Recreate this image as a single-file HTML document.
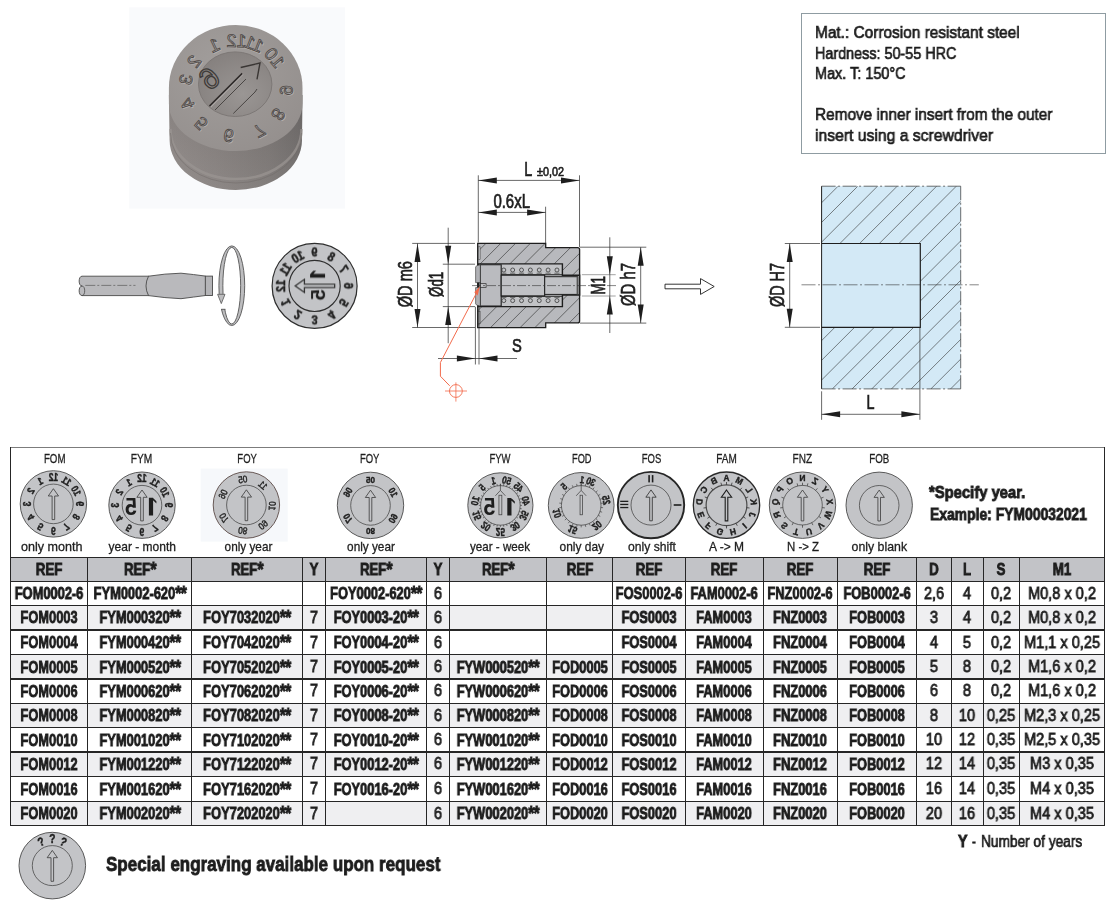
<!DOCTYPE html>
<html><head><meta charset="utf-8"><style>
html,body{margin:0;padding:0;background:#fff;}
body{width:1117px;height:909px;position:relative;overflow:hidden;font-family:"Liberation Sans",sans-serif;}
.t{position:absolute;white-space:nowrap;line-height:1;will-change:transform;}
.r{position:absolute;}
.as{font-size:1.2em;line-height:0;vertical-align:-0.05em;letter-spacing:-0.03em;}
svg{position:absolute;overflow:visible;}
</style></head><body>
<div class="r" style="left:10.50px;top:557.30px;width:1094.00px;height:24.00px;background:#c2c3c7;"></div><div class="r" style="left:10.50px;top:605.20px;width:1094.00px;height:24.80px;background:#efeff1;"></div><div class="r" style="left:10.50px;top:654.50px;width:1094.00px;height:24.50px;background:#efeff1;"></div><div class="r" style="left:10.50px;top:703.20px;width:1094.00px;height:24.30px;background:#efeff1;"></div><div class="r" style="left:10.50px;top:751.90px;width:1094.00px;height:24.60px;background:#efeff1;"></div><div class="r" style="left:10.50px;top:801.20px;width:1094.00px;height:24.10px;background:#efeff1;"></div><div class="r" style="left:10.50px;top:447.00px;width:1094.00px;height:1.00px;background:#7c7c7c;"></div><div class="r" style="left:9.90px;top:556.65px;width:1095.20px;height:1.30px;background:#262626;"></div><div class="r" style="left:9.90px;top:580.65px;width:1095.20px;height:1.30px;background:#262626;"></div><div class="r" style="left:9.90px;top:604.55px;width:1095.20px;height:1.30px;background:#262626;"></div><div class="r" style="left:9.90px;top:629.35px;width:1095.20px;height:1.30px;background:#262626;"></div><div class="r" style="left:9.90px;top:653.85px;width:1095.20px;height:1.30px;background:#262626;"></div><div class="r" style="left:9.90px;top:678.35px;width:1095.20px;height:1.30px;background:#262626;"></div><div class="r" style="left:9.90px;top:702.55px;width:1095.20px;height:1.30px;background:#262626;"></div><div class="r" style="left:9.90px;top:726.85px;width:1095.20px;height:1.30px;background:#262626;"></div><div class="r" style="left:9.90px;top:751.25px;width:1095.20px;height:1.30px;background:#262626;"></div><div class="r" style="left:9.90px;top:775.85px;width:1095.20px;height:1.30px;background:#262626;"></div><div class="r" style="left:9.90px;top:800.55px;width:1095.20px;height:1.30px;background:#262626;"></div><div class="r" style="left:9.90px;top:824.65px;width:1095.20px;height:1.30px;background:#262626;"></div><div class="r" style="left:9.90px;top:447.00px;width:1.30px;height:378.90px;background:#262626;"></div><div class="r" style="left:1103.90px;top:447.00px;width:1.30px;height:378.90px;background:#262626;"></div><div class="r" style="left:86.90px;top:557.30px;width:1.20px;height:268.00px;background:#262626;"></div><div class="r" style="left:191.20px;top:557.30px;width:1.20px;height:268.00px;background:#262626;"></div><div class="r" style="left:301.80px;top:557.30px;width:1.20px;height:268.00px;background:#262626;"></div><div class="r" style="left:325.30px;top:557.30px;width:1.20px;height:268.00px;background:#262626;"></div><div class="r" style="left:426.00px;top:557.30px;width:1.20px;height:268.00px;background:#262626;"></div><div class="r" style="left:448.50px;top:557.30px;width:1.20px;height:268.00px;background:#262626;"></div><div class="r" style="left:546.10px;top:557.30px;width:1.20px;height:268.00px;background:#262626;"></div><div class="r" style="left:612.10px;top:557.30px;width:1.20px;height:268.00px;background:#262626;"></div><div class="r" style="left:684.80px;top:557.30px;width:1.20px;height:268.00px;background:#262626;"></div><div class="r" style="left:762.50px;top:557.30px;width:1.20px;height:268.00px;background:#262626;"></div><div class="r" style="left:836.90px;top:557.30px;width:1.20px;height:268.00px;background:#262626;"></div><div class="r" style="left:915.70px;top:557.30px;width:1.20px;height:268.00px;background:#262626;"></div><div class="r" style="left:950.50px;top:557.30px;width:1.20px;height:268.00px;background:#262626;"></div><div class="r" style="left:982.90px;top:557.30px;width:1.20px;height:268.00px;background:#262626;"></div><div class="r" style="left:1018.80px;top:557.30px;width:1.20px;height:268.00px;background:#262626;"></div><div class="t" style="left:-251.00px;width:600px;text-align:center;top:561.23px;font-size:16.5px;font-weight:bold;transform:scaleX(0.8000);color:#1e1e1e;-webkit-text-stroke:0.85px #1a1a1a;">REF</div><div class="t" style="left:-160.35px;width:600px;text-align:center;top:561.23px;font-size:16.5px;font-weight:bold;transform:scaleX(0.8000);color:#1e1e1e;-webkit-text-stroke:0.85px #1a1a1a;">REF<span class="as">*</span></div><div class="t" style="left:-52.90px;width:600px;text-align:center;top:561.23px;font-size:16.5px;font-weight:bold;transform:scaleX(0.8000);color:#1e1e1e;-webkit-text-stroke:0.85px #1a1a1a;">REF<span class="as">*</span></div><div class="t" style="left:14.15px;width:600px;text-align:center;top:561.23px;font-size:16.5px;font-weight:bold;transform:scaleX(0.8000);color:#1e1e1e;-webkit-text-stroke:0.85px #1a1a1a;">Y</div><div class="t" style="left:76.25px;width:600px;text-align:center;top:561.23px;font-size:16.5px;font-weight:bold;transform:scaleX(0.8000);color:#1e1e1e;-webkit-text-stroke:0.85px #1a1a1a;">REF<span class="as">*</span></div><div class="t" style="left:137.85px;width:600px;text-align:center;top:561.23px;font-size:16.5px;font-weight:bold;transform:scaleX(0.8000);color:#1e1e1e;-webkit-text-stroke:0.85px #1a1a1a;">Y</div><div class="t" style="left:197.90px;width:600px;text-align:center;top:561.23px;font-size:16.5px;font-weight:bold;transform:scaleX(0.8000);color:#1e1e1e;-webkit-text-stroke:0.85px #1a1a1a;">REF<span class="as">*</span></div><div class="t" style="left:279.70px;width:600px;text-align:center;top:561.23px;font-size:16.5px;font-weight:bold;transform:scaleX(0.8000);color:#1e1e1e;-webkit-text-stroke:0.85px #1a1a1a;">REF</div><div class="t" style="left:349.05px;width:600px;text-align:center;top:561.23px;font-size:16.5px;font-weight:bold;transform:scaleX(0.8000);color:#1e1e1e;-webkit-text-stroke:0.85px #1a1a1a;">REF</div><div class="t" style="left:424.25px;width:600px;text-align:center;top:561.23px;font-size:16.5px;font-weight:bold;transform:scaleX(0.8000);color:#1e1e1e;-webkit-text-stroke:0.85px #1a1a1a;">REF</div><div class="t" style="left:500.30px;width:600px;text-align:center;top:561.23px;font-size:16.5px;font-weight:bold;transform:scaleX(0.8000);color:#1e1e1e;-webkit-text-stroke:0.85px #1a1a1a;">REF</div><div class="t" style="left:576.90px;width:600px;text-align:center;top:561.23px;font-size:16.5px;font-weight:bold;transform:scaleX(0.8000);color:#1e1e1e;-webkit-text-stroke:0.85px #1a1a1a;">REF</div><div class="t" style="left:633.70px;width:600px;text-align:center;top:561.23px;font-size:16.5px;font-weight:bold;transform:scaleX(0.8000);color:#1e1e1e;-webkit-text-stroke:0.85px #1a1a1a;">D</div><div class="t" style="left:667.30px;width:600px;text-align:center;top:561.23px;font-size:16.5px;font-weight:bold;transform:scaleX(0.8000);color:#1e1e1e;-webkit-text-stroke:0.85px #1a1a1a;">L</div><div class="t" style="left:701.45px;width:600px;text-align:center;top:561.23px;font-size:16.5px;font-weight:bold;transform:scaleX(0.8000);color:#1e1e1e;-webkit-text-stroke:0.85px #1a1a1a;">S</div><div class="t" style="left:761.95px;width:600px;text-align:center;top:561.23px;font-size:16.5px;font-weight:bold;transform:scaleX(0.8000);color:#1e1e1e;-webkit-text-stroke:0.85px #1a1a1a;">M1</div><div class="t" style="left:-251.00px;width:600px;text-align:center;top:585.08px;font-size:16.5px;font-weight:bold;transform:scaleX(0.7800);color:#1e1e1e;-webkit-text-stroke:0.85px #1a1a1a;">FOM0002-6</div><div class="t" style="left:-160.35px;width:600px;text-align:center;top:585.08px;font-size:16.5px;font-weight:bold;transform:scaleX(0.7800);color:#1e1e1e;-webkit-text-stroke:0.85px #1a1a1a;">FYM0002-620<span class="as">**</span></div><div class="t" style="left:76.25px;width:600px;text-align:center;top:585.08px;font-size:16.5px;font-weight:bold;transform:scaleX(0.7800);color:#1e1e1e;-webkit-text-stroke:0.85px #1a1a1a;">FOY0002-620<span class="as">**</span></div><div class="t" style="left:137.85px;width:600px;text-align:center;top:585.51px;font-size:16px;font-weight:normal;transform:scaleX(0.9100);color:#1e1e1e;-webkit-text-stroke:0.8px #1e1e1e;">6</div><div class="t" style="left:349.05px;width:600px;text-align:center;top:585.08px;font-size:16.5px;font-weight:bold;transform:scaleX(0.7800);color:#1e1e1e;-webkit-text-stroke:0.85px #1a1a1a;">FOS0002-6</div><div class="t" style="left:424.25px;width:600px;text-align:center;top:585.08px;font-size:16.5px;font-weight:bold;transform:scaleX(0.7800);color:#1e1e1e;-webkit-text-stroke:0.85px #1a1a1a;">FAM0002-6</div><div class="t" style="left:500.30px;width:600px;text-align:center;top:585.08px;font-size:16.5px;font-weight:bold;transform:scaleX(0.7800);color:#1e1e1e;-webkit-text-stroke:0.85px #1a1a1a;">FNZ0002-6</div><div class="t" style="left:576.90px;width:600px;text-align:center;top:585.08px;font-size:16.5px;font-weight:bold;transform:scaleX(0.7800);color:#1e1e1e;-webkit-text-stroke:0.85px #1a1a1a;">FOB0002-6</div><div class="t" style="left:633.70px;width:600px;text-align:center;top:585.51px;font-size:16px;font-weight:normal;transform:scaleX(0.9100);color:#1e1e1e;-webkit-text-stroke:0.8px #1e1e1e;">2,6</div><div class="t" style="left:667.30px;width:600px;text-align:center;top:585.51px;font-size:16px;font-weight:normal;transform:scaleX(0.9100);color:#1e1e1e;-webkit-text-stroke:0.8px #1e1e1e;">4</div><div class="t" style="left:701.45px;width:600px;text-align:center;top:585.51px;font-size:16px;font-weight:normal;transform:scaleX(0.9100);color:#1e1e1e;-webkit-text-stroke:0.8px #1e1e1e;">0,2</div><div class="t" style="left:761.95px;width:600px;text-align:center;top:585.51px;font-size:16px;font-weight:normal;transform:scaleX(0.9100);color:#1e1e1e;-webkit-text-stroke:0.8px #1e1e1e;">M0,8 x 0,2</div><div class="t" style="left:-251.00px;width:600px;text-align:center;top:609.43px;font-size:16.5px;font-weight:bold;transform:scaleX(0.7800);color:#1e1e1e;-webkit-text-stroke:0.85px #1a1a1a;">FOM0003</div><div class="t" style="left:-160.35px;width:600px;text-align:center;top:609.43px;font-size:16.5px;font-weight:bold;transform:scaleX(0.7800);color:#1e1e1e;-webkit-text-stroke:0.85px #1a1a1a;">FYM000320<span class="as">**</span></div><div class="t" style="left:-52.90px;width:600px;text-align:center;top:609.43px;font-size:16.5px;font-weight:bold;transform:scaleX(0.7800);color:#1e1e1e;-webkit-text-stroke:0.85px #1a1a1a;">FOY7032020<span class="as">**</span></div><div class="t" style="left:14.15px;width:600px;text-align:center;top:609.86px;font-size:16px;font-weight:normal;transform:scaleX(0.9100);color:#1e1e1e;-webkit-text-stroke:0.8px #1e1e1e;">7</div><div class="t" style="left:76.25px;width:600px;text-align:center;top:609.43px;font-size:16.5px;font-weight:bold;transform:scaleX(0.7800);color:#1e1e1e;-webkit-text-stroke:0.85px #1a1a1a;">FOY0003-20<span class="as">**</span></div><div class="t" style="left:137.85px;width:600px;text-align:center;top:609.86px;font-size:16px;font-weight:normal;transform:scaleX(0.9100);color:#1e1e1e;-webkit-text-stroke:0.8px #1e1e1e;">6</div><div class="t" style="left:349.05px;width:600px;text-align:center;top:609.43px;font-size:16.5px;font-weight:bold;transform:scaleX(0.7800);color:#1e1e1e;-webkit-text-stroke:0.85px #1a1a1a;">FOS0003</div><div class="t" style="left:424.25px;width:600px;text-align:center;top:609.43px;font-size:16.5px;font-weight:bold;transform:scaleX(0.7800);color:#1e1e1e;-webkit-text-stroke:0.85px #1a1a1a;">FAM0003</div><div class="t" style="left:500.30px;width:600px;text-align:center;top:609.43px;font-size:16.5px;font-weight:bold;transform:scaleX(0.7800);color:#1e1e1e;-webkit-text-stroke:0.85px #1a1a1a;">FNZ0003</div><div class="t" style="left:576.90px;width:600px;text-align:center;top:609.43px;font-size:16.5px;font-weight:bold;transform:scaleX(0.7800);color:#1e1e1e;-webkit-text-stroke:0.85px #1a1a1a;">FOB0003</div><div class="t" style="left:633.70px;width:600px;text-align:center;top:609.86px;font-size:16px;font-weight:normal;transform:scaleX(0.9100);color:#1e1e1e;-webkit-text-stroke:0.8px #1e1e1e;">3</div><div class="t" style="left:667.30px;width:600px;text-align:center;top:609.86px;font-size:16px;font-weight:normal;transform:scaleX(0.9100);color:#1e1e1e;-webkit-text-stroke:0.8px #1e1e1e;">4</div><div class="t" style="left:701.45px;width:600px;text-align:center;top:609.86px;font-size:16px;font-weight:normal;transform:scaleX(0.9100);color:#1e1e1e;-webkit-text-stroke:0.8px #1e1e1e;">0,2</div><div class="t" style="left:761.95px;width:600px;text-align:center;top:609.86px;font-size:16px;font-weight:normal;transform:scaleX(0.9100);color:#1e1e1e;-webkit-text-stroke:0.8px #1e1e1e;">M0,8 x 0,2</div><div class="t" style="left:-251.00px;width:600px;text-align:center;top:634.08px;font-size:16.5px;font-weight:bold;transform:scaleX(0.7800);color:#1e1e1e;-webkit-text-stroke:0.85px #1a1a1a;">FOM0004</div><div class="t" style="left:-160.35px;width:600px;text-align:center;top:634.08px;font-size:16.5px;font-weight:bold;transform:scaleX(0.7800);color:#1e1e1e;-webkit-text-stroke:0.85px #1a1a1a;">FYM000420<span class="as">**</span></div><div class="t" style="left:-52.90px;width:600px;text-align:center;top:634.08px;font-size:16.5px;font-weight:bold;transform:scaleX(0.7800);color:#1e1e1e;-webkit-text-stroke:0.85px #1a1a1a;">FOY7042020<span class="as">**</span></div><div class="t" style="left:14.15px;width:600px;text-align:center;top:634.51px;font-size:16px;font-weight:normal;transform:scaleX(0.9100);color:#1e1e1e;-webkit-text-stroke:0.8px #1e1e1e;">7</div><div class="t" style="left:76.25px;width:600px;text-align:center;top:634.08px;font-size:16.5px;font-weight:bold;transform:scaleX(0.7800);color:#1e1e1e;-webkit-text-stroke:0.85px #1a1a1a;">FOY0004-20<span class="as">**</span></div><div class="t" style="left:137.85px;width:600px;text-align:center;top:634.51px;font-size:16px;font-weight:normal;transform:scaleX(0.9100);color:#1e1e1e;-webkit-text-stroke:0.8px #1e1e1e;">6</div><div class="t" style="left:349.05px;width:600px;text-align:center;top:634.08px;font-size:16.5px;font-weight:bold;transform:scaleX(0.7800);color:#1e1e1e;-webkit-text-stroke:0.85px #1a1a1a;">FOS0004</div><div class="t" style="left:424.25px;width:600px;text-align:center;top:634.08px;font-size:16.5px;font-weight:bold;transform:scaleX(0.7800);color:#1e1e1e;-webkit-text-stroke:0.85px #1a1a1a;">FAM0004</div><div class="t" style="left:500.30px;width:600px;text-align:center;top:634.08px;font-size:16.5px;font-weight:bold;transform:scaleX(0.7800);color:#1e1e1e;-webkit-text-stroke:0.85px #1a1a1a;">FNZ0004</div><div class="t" style="left:576.90px;width:600px;text-align:center;top:634.08px;font-size:16.5px;font-weight:bold;transform:scaleX(0.7800);color:#1e1e1e;-webkit-text-stroke:0.85px #1a1a1a;">FOB0004</div><div class="t" style="left:633.70px;width:600px;text-align:center;top:634.51px;font-size:16px;font-weight:normal;transform:scaleX(0.9100);color:#1e1e1e;-webkit-text-stroke:0.8px #1e1e1e;">4</div><div class="t" style="left:667.30px;width:600px;text-align:center;top:634.51px;font-size:16px;font-weight:normal;transform:scaleX(0.9100);color:#1e1e1e;-webkit-text-stroke:0.8px #1e1e1e;">5</div><div class="t" style="left:701.45px;width:600px;text-align:center;top:634.51px;font-size:16px;font-weight:normal;transform:scaleX(0.9100);color:#1e1e1e;-webkit-text-stroke:0.8px #1e1e1e;">0,2</div><div class="t" style="left:761.95px;width:600px;text-align:center;top:634.51px;font-size:16px;font-weight:normal;transform:scaleX(0.9100);color:#1e1e1e;-webkit-text-stroke:0.8px #1e1e1e;">M1,1 x 0,25</div><div class="t" style="left:-251.00px;width:600px;text-align:center;top:658.58px;font-size:16.5px;font-weight:bold;transform:scaleX(0.7800);color:#1e1e1e;-webkit-text-stroke:0.85px #1a1a1a;">FOM0005</div><div class="t" style="left:-160.35px;width:600px;text-align:center;top:658.58px;font-size:16.5px;font-weight:bold;transform:scaleX(0.7800);color:#1e1e1e;-webkit-text-stroke:0.85px #1a1a1a;">FYM000520<span class="as">**</span></div><div class="t" style="left:-52.90px;width:600px;text-align:center;top:658.58px;font-size:16.5px;font-weight:bold;transform:scaleX(0.7800);color:#1e1e1e;-webkit-text-stroke:0.85px #1a1a1a;">FOY7052020<span class="as">**</span></div><div class="t" style="left:14.15px;width:600px;text-align:center;top:659.01px;font-size:16px;font-weight:normal;transform:scaleX(0.9100);color:#1e1e1e;-webkit-text-stroke:0.8px #1e1e1e;">7</div><div class="t" style="left:76.25px;width:600px;text-align:center;top:658.58px;font-size:16.5px;font-weight:bold;transform:scaleX(0.7800);color:#1e1e1e;-webkit-text-stroke:0.85px #1a1a1a;">FOY0005-20<span class="as">**</span></div><div class="t" style="left:137.85px;width:600px;text-align:center;top:659.01px;font-size:16px;font-weight:normal;transform:scaleX(0.9100);color:#1e1e1e;-webkit-text-stroke:0.8px #1e1e1e;">6</div><div class="t" style="left:197.90px;width:600px;text-align:center;top:658.58px;font-size:16.5px;font-weight:bold;transform:scaleX(0.7800);color:#1e1e1e;-webkit-text-stroke:0.85px #1a1a1a;">FYW000520<span class="as">**</span></div><div class="t" style="left:279.70px;width:600px;text-align:center;top:658.58px;font-size:16.5px;font-weight:bold;transform:scaleX(0.7800);color:#1e1e1e;-webkit-text-stroke:0.85px #1a1a1a;">FOD0005</div><div class="t" style="left:349.05px;width:600px;text-align:center;top:658.58px;font-size:16.5px;font-weight:bold;transform:scaleX(0.7800);color:#1e1e1e;-webkit-text-stroke:0.85px #1a1a1a;">FOS0005</div><div class="t" style="left:424.25px;width:600px;text-align:center;top:658.58px;font-size:16.5px;font-weight:bold;transform:scaleX(0.7800);color:#1e1e1e;-webkit-text-stroke:0.85px #1a1a1a;">FAM0005</div><div class="t" style="left:500.30px;width:600px;text-align:center;top:658.58px;font-size:16.5px;font-weight:bold;transform:scaleX(0.7800);color:#1e1e1e;-webkit-text-stroke:0.85px #1a1a1a;">FNZ0005</div><div class="t" style="left:576.90px;width:600px;text-align:center;top:658.58px;font-size:16.5px;font-weight:bold;transform:scaleX(0.7800);color:#1e1e1e;-webkit-text-stroke:0.85px #1a1a1a;">FOB0005</div><div class="t" style="left:633.70px;width:600px;text-align:center;top:659.01px;font-size:16px;font-weight:normal;transform:scaleX(0.9100);color:#1e1e1e;-webkit-text-stroke:0.8px #1e1e1e;">5</div><div class="t" style="left:667.30px;width:600px;text-align:center;top:659.01px;font-size:16px;font-weight:normal;transform:scaleX(0.9100);color:#1e1e1e;-webkit-text-stroke:0.8px #1e1e1e;">8</div><div class="t" style="left:701.45px;width:600px;text-align:center;top:659.01px;font-size:16px;font-weight:normal;transform:scaleX(0.9100);color:#1e1e1e;-webkit-text-stroke:0.8px #1e1e1e;">0,2</div><div class="t" style="left:761.95px;width:600px;text-align:center;top:659.01px;font-size:16px;font-weight:normal;transform:scaleX(0.9100);color:#1e1e1e;-webkit-text-stroke:0.8px #1e1e1e;">M1,6 x 0,2</div><div class="t" style="left:-251.00px;width:600px;text-align:center;top:682.93px;font-size:16.5px;font-weight:bold;transform:scaleX(0.7800);color:#1e1e1e;-webkit-text-stroke:0.85px #1a1a1a;">FOM0006</div><div class="t" style="left:-160.35px;width:600px;text-align:center;top:682.93px;font-size:16.5px;font-weight:bold;transform:scaleX(0.7800);color:#1e1e1e;-webkit-text-stroke:0.85px #1a1a1a;">FYM000620<span class="as">**</span></div><div class="t" style="left:-52.90px;width:600px;text-align:center;top:682.93px;font-size:16.5px;font-weight:bold;transform:scaleX(0.7800);color:#1e1e1e;-webkit-text-stroke:0.85px #1a1a1a;">FOY7062020<span class="as">**</span></div><div class="t" style="left:14.15px;width:600px;text-align:center;top:683.36px;font-size:16px;font-weight:normal;transform:scaleX(0.9100);color:#1e1e1e;-webkit-text-stroke:0.8px #1e1e1e;">7</div><div class="t" style="left:76.25px;width:600px;text-align:center;top:682.93px;font-size:16.5px;font-weight:bold;transform:scaleX(0.7800);color:#1e1e1e;-webkit-text-stroke:0.85px #1a1a1a;">FOY0006-20<span class="as">**</span></div><div class="t" style="left:137.85px;width:600px;text-align:center;top:683.36px;font-size:16px;font-weight:normal;transform:scaleX(0.9100);color:#1e1e1e;-webkit-text-stroke:0.8px #1e1e1e;">6</div><div class="t" style="left:197.90px;width:600px;text-align:center;top:682.93px;font-size:16.5px;font-weight:bold;transform:scaleX(0.7800);color:#1e1e1e;-webkit-text-stroke:0.85px #1a1a1a;">FYW000620<span class="as">**</span></div><div class="t" style="left:279.70px;width:600px;text-align:center;top:682.93px;font-size:16.5px;font-weight:bold;transform:scaleX(0.7800);color:#1e1e1e;-webkit-text-stroke:0.85px #1a1a1a;">FOD0006</div><div class="t" style="left:349.05px;width:600px;text-align:center;top:682.93px;font-size:16.5px;font-weight:bold;transform:scaleX(0.7800);color:#1e1e1e;-webkit-text-stroke:0.85px #1a1a1a;">FOS0006</div><div class="t" style="left:424.25px;width:600px;text-align:center;top:682.93px;font-size:16.5px;font-weight:bold;transform:scaleX(0.7800);color:#1e1e1e;-webkit-text-stroke:0.85px #1a1a1a;">FAM0006</div><div class="t" style="left:500.30px;width:600px;text-align:center;top:682.93px;font-size:16.5px;font-weight:bold;transform:scaleX(0.7800);color:#1e1e1e;-webkit-text-stroke:0.85px #1a1a1a;">FNZ0006</div><div class="t" style="left:576.90px;width:600px;text-align:center;top:682.93px;font-size:16.5px;font-weight:bold;transform:scaleX(0.7800);color:#1e1e1e;-webkit-text-stroke:0.85px #1a1a1a;">FOB0006</div><div class="t" style="left:633.70px;width:600px;text-align:center;top:683.36px;font-size:16px;font-weight:normal;transform:scaleX(0.9100);color:#1e1e1e;-webkit-text-stroke:0.8px #1e1e1e;">6</div><div class="t" style="left:667.30px;width:600px;text-align:center;top:683.36px;font-size:16px;font-weight:normal;transform:scaleX(0.9100);color:#1e1e1e;-webkit-text-stroke:0.8px #1e1e1e;">8</div><div class="t" style="left:701.45px;width:600px;text-align:center;top:683.36px;font-size:16px;font-weight:normal;transform:scaleX(0.9100);color:#1e1e1e;-webkit-text-stroke:0.8px #1e1e1e;">0,2</div><div class="t" style="left:761.95px;width:600px;text-align:center;top:683.36px;font-size:16px;font-weight:normal;transform:scaleX(0.9100);color:#1e1e1e;-webkit-text-stroke:0.8px #1e1e1e;">M1,6 x 0,2</div><div class="t" style="left:-251.00px;width:600px;text-align:center;top:707.18px;font-size:16.5px;font-weight:bold;transform:scaleX(0.7800);color:#1e1e1e;-webkit-text-stroke:0.85px #1a1a1a;">FOM0008</div><div class="t" style="left:-160.35px;width:600px;text-align:center;top:707.18px;font-size:16.5px;font-weight:bold;transform:scaleX(0.7800);color:#1e1e1e;-webkit-text-stroke:0.85px #1a1a1a;">FYM000820<span class="as">**</span></div><div class="t" style="left:-52.90px;width:600px;text-align:center;top:707.18px;font-size:16.5px;font-weight:bold;transform:scaleX(0.7800);color:#1e1e1e;-webkit-text-stroke:0.85px #1a1a1a;">FOY7082020<span class="as">**</span></div><div class="t" style="left:14.15px;width:600px;text-align:center;top:707.61px;font-size:16px;font-weight:normal;transform:scaleX(0.9100);color:#1e1e1e;-webkit-text-stroke:0.8px #1e1e1e;">7</div><div class="t" style="left:76.25px;width:600px;text-align:center;top:707.18px;font-size:16.5px;font-weight:bold;transform:scaleX(0.7800);color:#1e1e1e;-webkit-text-stroke:0.85px #1a1a1a;">FOY0008-20<span class="as">**</span></div><div class="t" style="left:137.85px;width:600px;text-align:center;top:707.61px;font-size:16px;font-weight:normal;transform:scaleX(0.9100);color:#1e1e1e;-webkit-text-stroke:0.8px #1e1e1e;">6</div><div class="t" style="left:197.90px;width:600px;text-align:center;top:707.18px;font-size:16.5px;font-weight:bold;transform:scaleX(0.7800);color:#1e1e1e;-webkit-text-stroke:0.85px #1a1a1a;">FYW000820<span class="as">**</span></div><div class="t" style="left:279.70px;width:600px;text-align:center;top:707.18px;font-size:16.5px;font-weight:bold;transform:scaleX(0.7800);color:#1e1e1e;-webkit-text-stroke:0.85px #1a1a1a;">FOD0008</div><div class="t" style="left:349.05px;width:600px;text-align:center;top:707.18px;font-size:16.5px;font-weight:bold;transform:scaleX(0.7800);color:#1e1e1e;-webkit-text-stroke:0.85px #1a1a1a;">FOS0008</div><div class="t" style="left:424.25px;width:600px;text-align:center;top:707.18px;font-size:16.5px;font-weight:bold;transform:scaleX(0.7800);color:#1e1e1e;-webkit-text-stroke:0.85px #1a1a1a;">FAM0008</div><div class="t" style="left:500.30px;width:600px;text-align:center;top:707.18px;font-size:16.5px;font-weight:bold;transform:scaleX(0.7800);color:#1e1e1e;-webkit-text-stroke:0.85px #1a1a1a;">FNZ0008</div><div class="t" style="left:576.90px;width:600px;text-align:center;top:707.18px;font-size:16.5px;font-weight:bold;transform:scaleX(0.7800);color:#1e1e1e;-webkit-text-stroke:0.85px #1a1a1a;">FOB0008</div><div class="t" style="left:633.70px;width:600px;text-align:center;top:707.61px;font-size:16px;font-weight:normal;transform:scaleX(0.9100);color:#1e1e1e;-webkit-text-stroke:0.8px #1e1e1e;">8</div><div class="t" style="left:667.30px;width:600px;text-align:center;top:707.61px;font-size:16px;font-weight:normal;transform:scaleX(0.9100);color:#1e1e1e;-webkit-text-stroke:0.8px #1e1e1e;">10</div><div class="t" style="left:701.45px;width:600px;text-align:center;top:707.61px;font-size:16px;font-weight:normal;transform:scaleX(0.9100);color:#1e1e1e;-webkit-text-stroke:0.8px #1e1e1e;">0,25</div><div class="t" style="left:761.95px;width:600px;text-align:center;top:707.61px;font-size:16px;font-weight:normal;transform:scaleX(0.9100);color:#1e1e1e;-webkit-text-stroke:0.8px #1e1e1e;">M2,3 x 0,25</div><div class="t" style="left:-251.00px;width:600px;text-align:center;top:731.53px;font-size:16.5px;font-weight:bold;transform:scaleX(0.7800);color:#1e1e1e;-webkit-text-stroke:0.85px #1a1a1a;">FOM0010</div><div class="t" style="left:-160.35px;width:600px;text-align:center;top:731.53px;font-size:16.5px;font-weight:bold;transform:scaleX(0.7800);color:#1e1e1e;-webkit-text-stroke:0.85px #1a1a1a;">FYM001020<span class="as">**</span></div><div class="t" style="left:-52.90px;width:600px;text-align:center;top:731.53px;font-size:16.5px;font-weight:bold;transform:scaleX(0.7800);color:#1e1e1e;-webkit-text-stroke:0.85px #1a1a1a;">FOY7102020<span class="as">**</span></div><div class="t" style="left:14.15px;width:600px;text-align:center;top:731.96px;font-size:16px;font-weight:normal;transform:scaleX(0.9100);color:#1e1e1e;-webkit-text-stroke:0.8px #1e1e1e;">7</div><div class="t" style="left:76.25px;width:600px;text-align:center;top:731.53px;font-size:16.5px;font-weight:bold;transform:scaleX(0.7800);color:#1e1e1e;-webkit-text-stroke:0.85px #1a1a1a;">FOY0010-20<span class="as">**</span></div><div class="t" style="left:137.85px;width:600px;text-align:center;top:731.96px;font-size:16px;font-weight:normal;transform:scaleX(0.9100);color:#1e1e1e;-webkit-text-stroke:0.8px #1e1e1e;">6</div><div class="t" style="left:197.90px;width:600px;text-align:center;top:731.53px;font-size:16.5px;font-weight:bold;transform:scaleX(0.7800);color:#1e1e1e;-webkit-text-stroke:0.85px #1a1a1a;">FYW001020<span class="as">**</span></div><div class="t" style="left:279.70px;width:600px;text-align:center;top:731.53px;font-size:16.5px;font-weight:bold;transform:scaleX(0.7800);color:#1e1e1e;-webkit-text-stroke:0.85px #1a1a1a;">FOD0010</div><div class="t" style="left:349.05px;width:600px;text-align:center;top:731.53px;font-size:16.5px;font-weight:bold;transform:scaleX(0.7800);color:#1e1e1e;-webkit-text-stroke:0.85px #1a1a1a;">FOS0010</div><div class="t" style="left:424.25px;width:600px;text-align:center;top:731.53px;font-size:16.5px;font-weight:bold;transform:scaleX(0.7800);color:#1e1e1e;-webkit-text-stroke:0.85px #1a1a1a;">FAM0010</div><div class="t" style="left:500.30px;width:600px;text-align:center;top:731.53px;font-size:16.5px;font-weight:bold;transform:scaleX(0.7800);color:#1e1e1e;-webkit-text-stroke:0.85px #1a1a1a;">FNZ0010</div><div class="t" style="left:576.90px;width:600px;text-align:center;top:731.53px;font-size:16.5px;font-weight:bold;transform:scaleX(0.7800);color:#1e1e1e;-webkit-text-stroke:0.85px #1a1a1a;">FOB0010</div><div class="t" style="left:633.70px;width:600px;text-align:center;top:731.96px;font-size:16px;font-weight:normal;transform:scaleX(0.9100);color:#1e1e1e;-webkit-text-stroke:0.8px #1e1e1e;">10</div><div class="t" style="left:667.30px;width:600px;text-align:center;top:731.96px;font-size:16px;font-weight:normal;transform:scaleX(0.9100);color:#1e1e1e;-webkit-text-stroke:0.8px #1e1e1e;">12</div><div class="t" style="left:701.45px;width:600px;text-align:center;top:731.96px;font-size:16px;font-weight:normal;transform:scaleX(0.9100);color:#1e1e1e;-webkit-text-stroke:0.8px #1e1e1e;">0,35</div><div class="t" style="left:761.95px;width:600px;text-align:center;top:731.96px;font-size:16px;font-weight:normal;transform:scaleX(0.9100);color:#1e1e1e;-webkit-text-stroke:0.8px #1e1e1e;">M2,5 x 0,35</div><div class="t" style="left:-251.00px;width:600px;text-align:center;top:756.03px;font-size:16.5px;font-weight:bold;transform:scaleX(0.7800);color:#1e1e1e;-webkit-text-stroke:0.85px #1a1a1a;">FOM0012</div><div class="t" style="left:-160.35px;width:600px;text-align:center;top:756.03px;font-size:16.5px;font-weight:bold;transform:scaleX(0.7800);color:#1e1e1e;-webkit-text-stroke:0.85px #1a1a1a;">FYM001220<span class="as">**</span></div><div class="t" style="left:-52.90px;width:600px;text-align:center;top:756.03px;font-size:16.5px;font-weight:bold;transform:scaleX(0.7800);color:#1e1e1e;-webkit-text-stroke:0.85px #1a1a1a;">FOY7122020<span class="as">**</span></div><div class="t" style="left:14.15px;width:600px;text-align:center;top:756.46px;font-size:16px;font-weight:normal;transform:scaleX(0.9100);color:#1e1e1e;-webkit-text-stroke:0.8px #1e1e1e;">7</div><div class="t" style="left:76.25px;width:600px;text-align:center;top:756.03px;font-size:16.5px;font-weight:bold;transform:scaleX(0.7800);color:#1e1e1e;-webkit-text-stroke:0.85px #1a1a1a;">FOY0012-20<span class="as">**</span></div><div class="t" style="left:137.85px;width:600px;text-align:center;top:756.46px;font-size:16px;font-weight:normal;transform:scaleX(0.9100);color:#1e1e1e;-webkit-text-stroke:0.8px #1e1e1e;">6</div><div class="t" style="left:197.90px;width:600px;text-align:center;top:756.03px;font-size:16.5px;font-weight:bold;transform:scaleX(0.7800);color:#1e1e1e;-webkit-text-stroke:0.85px #1a1a1a;">FYW001220<span class="as">**</span></div><div class="t" style="left:279.70px;width:600px;text-align:center;top:756.03px;font-size:16.5px;font-weight:bold;transform:scaleX(0.7800);color:#1e1e1e;-webkit-text-stroke:0.85px #1a1a1a;">FOD0012</div><div class="t" style="left:349.05px;width:600px;text-align:center;top:756.03px;font-size:16.5px;font-weight:bold;transform:scaleX(0.7800);color:#1e1e1e;-webkit-text-stroke:0.85px #1a1a1a;">FOS0012</div><div class="t" style="left:424.25px;width:600px;text-align:center;top:756.03px;font-size:16.5px;font-weight:bold;transform:scaleX(0.7800);color:#1e1e1e;-webkit-text-stroke:0.85px #1a1a1a;">FAM0012</div><div class="t" style="left:500.30px;width:600px;text-align:center;top:756.03px;font-size:16.5px;font-weight:bold;transform:scaleX(0.7800);color:#1e1e1e;-webkit-text-stroke:0.85px #1a1a1a;">FNZ0012</div><div class="t" style="left:576.90px;width:600px;text-align:center;top:756.03px;font-size:16.5px;font-weight:bold;transform:scaleX(0.7800);color:#1e1e1e;-webkit-text-stroke:0.85px #1a1a1a;">FOB0012</div><div class="t" style="left:633.70px;width:600px;text-align:center;top:756.46px;font-size:16px;font-weight:normal;transform:scaleX(0.9100);color:#1e1e1e;-webkit-text-stroke:0.8px #1e1e1e;">12</div><div class="t" style="left:667.30px;width:600px;text-align:center;top:756.46px;font-size:16px;font-weight:normal;transform:scaleX(0.9100);color:#1e1e1e;-webkit-text-stroke:0.8px #1e1e1e;">14</div><div class="t" style="left:701.45px;width:600px;text-align:center;top:756.46px;font-size:16px;font-weight:normal;transform:scaleX(0.9100);color:#1e1e1e;-webkit-text-stroke:0.8px #1e1e1e;">0,35</div><div class="t" style="left:761.95px;width:600px;text-align:center;top:756.46px;font-size:16px;font-weight:normal;transform:scaleX(0.9100);color:#1e1e1e;-webkit-text-stroke:0.8px #1e1e1e;">M3 x 0,35</div><div class="t" style="left:-251.00px;width:600px;text-align:center;top:780.68px;font-size:16.5px;font-weight:bold;transform:scaleX(0.7800);color:#1e1e1e;-webkit-text-stroke:0.85px #1a1a1a;">FOM0016</div><div class="t" style="left:-160.35px;width:600px;text-align:center;top:780.68px;font-size:16.5px;font-weight:bold;transform:scaleX(0.7800);color:#1e1e1e;-webkit-text-stroke:0.85px #1a1a1a;">FYM001620<span class="as">**</span></div><div class="t" style="left:-52.90px;width:600px;text-align:center;top:780.68px;font-size:16.5px;font-weight:bold;transform:scaleX(0.7800);color:#1e1e1e;-webkit-text-stroke:0.85px #1a1a1a;">FOY7162020<span class="as">**</span></div><div class="t" style="left:14.15px;width:600px;text-align:center;top:781.11px;font-size:16px;font-weight:normal;transform:scaleX(0.9100);color:#1e1e1e;-webkit-text-stroke:0.8px #1e1e1e;">7</div><div class="t" style="left:76.25px;width:600px;text-align:center;top:780.68px;font-size:16.5px;font-weight:bold;transform:scaleX(0.7800);color:#1e1e1e;-webkit-text-stroke:0.85px #1a1a1a;">FOY0016-20<span class="as">**</span></div><div class="t" style="left:137.85px;width:600px;text-align:center;top:781.11px;font-size:16px;font-weight:normal;transform:scaleX(0.9100);color:#1e1e1e;-webkit-text-stroke:0.8px #1e1e1e;">6</div><div class="t" style="left:197.90px;width:600px;text-align:center;top:780.68px;font-size:16.5px;font-weight:bold;transform:scaleX(0.7800);color:#1e1e1e;-webkit-text-stroke:0.85px #1a1a1a;">FYW001620<span class="as">**</span></div><div class="t" style="left:279.70px;width:600px;text-align:center;top:780.68px;font-size:16.5px;font-weight:bold;transform:scaleX(0.7800);color:#1e1e1e;-webkit-text-stroke:0.85px #1a1a1a;">FOD0016</div><div class="t" style="left:349.05px;width:600px;text-align:center;top:780.68px;font-size:16.5px;font-weight:bold;transform:scaleX(0.7800);color:#1e1e1e;-webkit-text-stroke:0.85px #1a1a1a;">FOS0016</div><div class="t" style="left:424.25px;width:600px;text-align:center;top:780.68px;font-size:16.5px;font-weight:bold;transform:scaleX(0.7800);color:#1e1e1e;-webkit-text-stroke:0.85px #1a1a1a;">FAM0016</div><div class="t" style="left:500.30px;width:600px;text-align:center;top:780.68px;font-size:16.5px;font-weight:bold;transform:scaleX(0.7800);color:#1e1e1e;-webkit-text-stroke:0.85px #1a1a1a;">FNZ0016</div><div class="t" style="left:576.90px;width:600px;text-align:center;top:780.68px;font-size:16.5px;font-weight:bold;transform:scaleX(0.7800);color:#1e1e1e;-webkit-text-stroke:0.85px #1a1a1a;">FOB0016</div><div class="t" style="left:633.70px;width:600px;text-align:center;top:781.11px;font-size:16px;font-weight:normal;transform:scaleX(0.9100);color:#1e1e1e;-webkit-text-stroke:0.8px #1e1e1e;">16</div><div class="t" style="left:667.30px;width:600px;text-align:center;top:781.11px;font-size:16px;font-weight:normal;transform:scaleX(0.9100);color:#1e1e1e;-webkit-text-stroke:0.8px #1e1e1e;">14</div><div class="t" style="left:701.45px;width:600px;text-align:center;top:781.11px;font-size:16px;font-weight:normal;transform:scaleX(0.9100);color:#1e1e1e;-webkit-text-stroke:0.8px #1e1e1e;">0,35</div><div class="t" style="left:761.95px;width:600px;text-align:center;top:781.11px;font-size:16px;font-weight:normal;transform:scaleX(0.9100);color:#1e1e1e;-webkit-text-stroke:0.8px #1e1e1e;">M4 x 0,35</div><div class="t" style="left:-251.00px;width:600px;text-align:center;top:805.08px;font-size:16.5px;font-weight:bold;transform:scaleX(0.7800);color:#1e1e1e;-webkit-text-stroke:0.85px #1a1a1a;">FOM0020</div><div class="t" style="left:-160.35px;width:600px;text-align:center;top:805.08px;font-size:16.5px;font-weight:bold;transform:scaleX(0.7800);color:#1e1e1e;-webkit-text-stroke:0.85px #1a1a1a;">FYM002020<span class="as">**</span></div><div class="t" style="left:-52.90px;width:600px;text-align:center;top:805.08px;font-size:16.5px;font-weight:bold;transform:scaleX(0.7800);color:#1e1e1e;-webkit-text-stroke:0.85px #1a1a1a;">FOY7202020<span class="as">**</span></div><div class="t" style="left:14.15px;width:600px;text-align:center;top:805.51px;font-size:16px;font-weight:normal;transform:scaleX(0.9100);color:#1e1e1e;-webkit-text-stroke:0.8px #1e1e1e;">7</div><div class="t" style="left:137.85px;width:600px;text-align:center;top:805.51px;font-size:16px;font-weight:normal;transform:scaleX(0.9100);color:#1e1e1e;-webkit-text-stroke:0.8px #1e1e1e;">6</div><div class="t" style="left:197.90px;width:600px;text-align:center;top:805.08px;font-size:16.5px;font-weight:bold;transform:scaleX(0.7800);color:#1e1e1e;-webkit-text-stroke:0.85px #1a1a1a;">FYW002020<span class="as">**</span></div><div class="t" style="left:279.70px;width:600px;text-align:center;top:805.08px;font-size:16.5px;font-weight:bold;transform:scaleX(0.7800);color:#1e1e1e;-webkit-text-stroke:0.85px #1a1a1a;">FOD0020</div><div class="t" style="left:349.05px;width:600px;text-align:center;top:805.08px;font-size:16.5px;font-weight:bold;transform:scaleX(0.7800);color:#1e1e1e;-webkit-text-stroke:0.85px #1a1a1a;">FOS0020</div><div class="t" style="left:424.25px;width:600px;text-align:center;top:805.08px;font-size:16.5px;font-weight:bold;transform:scaleX(0.7800);color:#1e1e1e;-webkit-text-stroke:0.85px #1a1a1a;">FAM0020</div><div class="t" style="left:500.30px;width:600px;text-align:center;top:805.08px;font-size:16.5px;font-weight:bold;transform:scaleX(0.7800);color:#1e1e1e;-webkit-text-stroke:0.85px #1a1a1a;">FNZ0020</div><div class="t" style="left:576.90px;width:600px;text-align:center;top:805.08px;font-size:16.5px;font-weight:bold;transform:scaleX(0.7800);color:#1e1e1e;-webkit-text-stroke:0.85px #1a1a1a;">FOB0020</div><div class="t" style="left:633.70px;width:600px;text-align:center;top:805.51px;font-size:16px;font-weight:normal;transform:scaleX(0.9100);color:#1e1e1e;-webkit-text-stroke:0.8px #1e1e1e;">20</div><div class="t" style="left:667.30px;width:600px;text-align:center;top:805.51px;font-size:16px;font-weight:normal;transform:scaleX(0.9100);color:#1e1e1e;-webkit-text-stroke:0.8px #1e1e1e;">16</div><div class="t" style="left:701.45px;width:600px;text-align:center;top:805.51px;font-size:16px;font-weight:normal;transform:scaleX(0.9100);color:#1e1e1e;-webkit-text-stroke:0.8px #1e1e1e;">0,35</div><div class="t" style="left:761.95px;width:600px;text-align:center;top:805.51px;font-size:16px;font-weight:normal;transform:scaleX(0.9100);color:#1e1e1e;-webkit-text-stroke:0.8px #1e1e1e;">M4 x 0,35</div><div class="t" style="left:929.30px;top:484.03px;font-size:16.5px;font-weight:bold;transform:scaleX(0.8970);transform-origin:0 0;color:#1e1e1e;-webkit-text-stroke:0.85px #1a1a1a;">*Specify year.</div><div class="t" style="left:930.00px;top:505.53px;font-size:16.5px;font-weight:bold;transform:scaleX(0.8425);transform-origin:0 0;color:#1e1e1e;-webkit-text-stroke:0.85px #1a1a1a;">Example: FYM00032021</div><div class="t" style="left:105.90px;top:853.02px;font-size:21px;font-weight:bold;transform:scaleX(0.8095);transform-origin:0 0;color:#1e1e1e;-webkit-text-stroke:0.85px #1a1a1a;">Special engraving available upon request</div><div class="t" style="left:958.30px;top:833.66px;font-size:16px;font-weight:bold;transform:scaleX(0.8862);transform-origin:0 0;color:#1e1e1e;-webkit-text-stroke:0.85px #1a1a1a;">Y</div><div class="t" style="left:971.70px;top:833.66px;font-size:16px;font-weight:normal;transform:scaleX(0.7197);transform-origin:0 0;color:#1e1e1e;-webkit-text-stroke:0.7px #1e1e1e;">-</div><div class="t" style="left:981.40px;top:833.66px;font-size:16px;font-weight:normal;transform:scaleX(0.8559);transform-origin:0 0;color:#1e1e1e;-webkit-text-stroke:0.7px #1e1e1e;">Number of years</div><div class="r" style="left:801.00px;top:13.20px;width:304.50px;height:140.50px;background:#fff;border:1px solid #8f9ca2;box-sizing:border-box;"></div><div class="t" style="left:814.80px;top:24.01px;font-size:17px;font-weight:normal;transform:scaleX(0.9067);transform-origin:0 0;color:#1e1e1e;-webkit-text-stroke:0.7px #1a1a1a;">Mat.: Corrosion resistant steel</div><div class="t" style="left:814.80px;top:44.61px;font-size:17px;font-weight:normal;transform:scaleX(0.8453);transform-origin:0 0;color:#1e1e1e;-webkit-text-stroke:0.7px #1a1a1a;">Hardness: 50-55 HRC</div><div class="t" style="left:814.80px;top:65.11px;font-size:17px;font-weight:normal;transform:scaleX(0.8500);transform-origin:0 0;color:#1e1e1e;-webkit-text-stroke:0.7px #1a1a1a;">Max. T: 150°C</div><div class="t" style="left:814.80px;top:106.31px;font-size:17px;font-weight:normal;transform:scaleX(0.9039);transform-origin:0 0;color:#1e1e1e;-webkit-text-stroke:0.7px #1a1a1a;">Remove inner insert from the outer</div><div class="t" style="left:814.80px;top:126.61px;font-size:17px;font-weight:normal;transform:scaleX(0.9244);transform-origin:0 0;color:#1e1e1e;-webkit-text-stroke:0.7px #1a1a1a;">insert using a screwdriver</div><svg width="1117" height="909" viewBox="0 0 1117 909" style="left:0;top:0;font-family:'Liberation Sans',sans-serif;"><defs><linearGradient id="side" x1="0" x2="1" y1="0" y2="0"><stop offset="0" stop-color="#8f8987"/><stop offset="0.3" stop-color="#87817f"/><stop offset="0.75" stop-color="#7b7674"/><stop offset="1" stop-color="#6f6b6a"/></linearGradient><linearGradient id="sidev" x1="0" x2="0" y1="0" y2="1"><stop offset="0" stop-color="#000" stop-opacity="0.06"/><stop offset="1" stop-color="#fff" stop-opacity="0.06"/></linearGradient><radialGradient id="face" cx="0.4" cy="0.35" r="0.75"><stop offset="0" stop-color="#a29e9c"/><stop offset="1" stop-color="#948f8d"/></radialGradient><radialGradient id="inface" cx="0.6" cy="0.65" r="0.7"><stop offset="0" stop-color="#9a9694"/><stop offset="1" stop-color="#85807e"/></radialGradient></defs><rect x="129.2" y="7.3" width="215.8" height="201.3" fill="#f9fafc"/><path d="M168.9,95 L169.6,140 A66.2,50 0 0 0 302,140 L302.5,95 Z" fill="url(#side)"/><path d="M168.9,95 L169.6,140 A66.2,50 0 0 0 302,140 L302.5,95 Z" fill="url(#sidev)"/><path d="M170.5,129 A65.5,50 0 0 0 301.5,129" fill="none" stroke="#9a9492" stroke-width="2.6" opacity="0.75"/><path d="M170.5,133 A65.5,50 0 0 0 301.5,133" fill="none" stroke="#6f6a68" stroke-width="1.0" opacity="0.5"/><path d="M168.9,103.6 L168.9,87.8 A66.8,62.8 0 0 1 302.5,87.8 L302.5,103.6 A66.8,47.4 0 0 1 168.9,103.6 Z" fill="url(#face)"/><ellipse cx="235.2" cy="84.2" rx="36.7" ry="32.3" fill="url(#inface)" stroke="#7d7876" stroke-width="1"/><path d="M210.5,107 L243,74" stroke="#b3aeac" stroke-width="1.2" fill="none"/><path d="M209.5,106.1 L242.2,73.4" stroke="#2e2a29" stroke-width="1.5" fill="none"/><path d="M240.7,67.5 L260,63 L257,79.4" stroke="#3a3634" stroke-width="1.4" fill="none"/><path d="M215,110 L246,79 M233.3,113.5 L255,92 L257,89" stroke="#4a4644" stroke-width="1.0" fill="none"/><text transform="translate(216,86) rotate(-40) scale(-1,1)" font-size="30" fill="none" stroke="#3f3b39" stroke-width="1.3" text-anchor="middle">6</text><text transform="translate(186.4,80.1) rotate(-79) scale(-1,1)" y="6.5" font-size="18" text-anchor="middle" fill="none" stroke="#b8b3b1" stroke-width="0.8">3</text><text transform="translate(185.6,79.3) rotate(-79) scale(-1,1)" y="6.5" font-size="18" text-anchor="middle" fill="none" stroke="#4e4947" stroke-width="0.85">3</text><text transform="translate(194.7,61.8) rotate(-55) scale(-1,1)" y="6.5" font-size="18" text-anchor="middle" fill="none" stroke="#b8b3b1" stroke-width="0.8">2</text><text transform="translate(193.9,61.0) rotate(-55) scale(-1,1)" y="6.5" font-size="18" text-anchor="middle" fill="none" stroke="#4e4947" stroke-width="0.85">2</text><text transform="translate(214.9,45.8) rotate(-25) scale(-1,1)" y="6.5" font-size="18" text-anchor="middle" fill="none" stroke="#b8b3b1" stroke-width="0.8">1</text><text transform="translate(214.1,45.0) rotate(-25) scale(-1,1)" y="6.5" font-size="18" text-anchor="middle" fill="none" stroke="#4e4947" stroke-width="0.85">1</text><text transform="translate(237.4,41.3) rotate(1) scale(-1,1)" y="6.5" font-size="18" text-anchor="middle" fill="none" stroke="#b8b3b1" stroke-width="0.8">12</text><text transform="translate(236.6,40.5) rotate(1) scale(-1,1)" y="6.5" font-size="18" text-anchor="middle" fill="none" stroke="#4e4947" stroke-width="0.85">12</text><text transform="translate(254.8,44.5) rotate(21) scale(-1,1)" y="6.5" font-size="18" text-anchor="middle" fill="none" stroke="#b8b3b1" stroke-width="0.8">11</text><text transform="translate(254.0,43.7) rotate(21) scale(-1,1)" y="6.5" font-size="18" text-anchor="middle" fill="none" stroke="#4e4947" stroke-width="0.85">11</text><text transform="translate(275.6,58.4) rotate(50) scale(-1,1)" y="6.5" font-size="18" text-anchor="middle" fill="none" stroke="#b8b3b1" stroke-width="0.8">10</text><text transform="translate(274.8,57.6) rotate(50) scale(-1,1)" y="6.5" font-size="18" text-anchor="middle" fill="none" stroke="#4e4947" stroke-width="0.85">10</text><text transform="translate(287.5,91.0) rotate(92) scale(-1,1)" y="6.5" font-size="18" text-anchor="middle" fill="none" stroke="#b8b3b1" stroke-width="0.8">9</text><text transform="translate(286.7,90.2) rotate(92) scale(-1,1)" y="6.5" font-size="18" text-anchor="middle" fill="none" stroke="#4e4947" stroke-width="0.85">9</text><text transform="translate(279.3,115.4) rotate(123) scale(-1,1)" y="6.5" font-size="18" text-anchor="middle" fill="none" stroke="#b8b3b1" stroke-width="0.8">8</text><text transform="translate(278.5,114.6) rotate(123) scale(-1,1)" y="6.5" font-size="18" text-anchor="middle" fill="none" stroke="#4e4947" stroke-width="0.85">8</text><text transform="translate(260.4,131.7) rotate(152) scale(-1,1)" y="6.5" font-size="18" text-anchor="middle" fill="none" stroke="#b8b3b1" stroke-width="0.8">7</text><text transform="translate(259.6,130.9) rotate(152) scale(-1,1)" y="6.5" font-size="18" text-anchor="middle" fill="none" stroke="#4e4947" stroke-width="0.85">7</text><text transform="translate(229.4,136.8) rotate(188) scale(-1,1)" y="6.5" font-size="18" text-anchor="middle" fill="none" stroke="#b8b3b1" stroke-width="0.8">6</text><text transform="translate(228.6,136.0) rotate(188) scale(-1,1)" y="6.5" font-size="18" text-anchor="middle" fill="none" stroke="#4e4947" stroke-width="0.85">6</text><text transform="translate(201.7,124.4) rotate(223) scale(-1,1)" y="6.5" font-size="18" text-anchor="middle" fill="none" stroke="#b8b3b1" stroke-width="0.8">5</text><text transform="translate(200.9,123.6) rotate(223) scale(-1,1)" y="6.5" font-size="18" text-anchor="middle" fill="none" stroke="#4e4947" stroke-width="0.85">5</text><text transform="translate(188.0,104.1) rotate(252) scale(-1,1)" y="6.5" font-size="18" text-anchor="middle" fill="none" stroke="#b8b3b1" stroke-width="0.8">4</text><text transform="translate(187.2,103.3) rotate(252) scale(-1,1)" y="6.5" font-size="18" text-anchor="middle" fill="none" stroke="#4e4947" stroke-width="0.85">4</text><path d="M82,276.2 L149,276.2 L149,295.6 L82,295.6 C78.2,295.6 78.2,286 82,286 C78.2,286 78.2,276.2 82,276.2 Z" fill="#b9b9bc" stroke="#4a4a4a" stroke-width="0.9"/><path d="M82,286 C85.6,286 85.6,295.6 82,295.6" fill="none" stroke="#4a4a4a" stroke-width="0.8"/><path d="M148.5,276.2 Q165,273.6 181,273.2 Q194,274.5 205.5,276.1 L205.5,295.5 Q194,297 181,298.7 Q165,298 148.5,295.6 Q143.5,286 148.5,276.2 Z" fill="#b9b9bc" stroke="#4a4a4a" stroke-width="0.9"/><rect x="205.3" y="276.1" width="7.2" height="19.4" fill="#b4b4b7" stroke="#4a4a4a" stroke-width="0.9"/><line x1="85.3" y1="285.4" x2="135.5" y2="285.4" stroke="#666" stroke-width="0.8" stroke-dasharray="10,2,2,2"/><ellipse cx="231.8" cy="285.7" rx="12.9" ry="39.8" fill="#bdbdbf" stroke="#555" stroke-width="0.9"/><ellipse cx="231.75" cy="285.7" rx="8.9" ry="38.3" fill="#fff" stroke="#555" stroke-width="0.9"/><rect x="216" y="294.6" width="10.5" height="14.5" fill="#fff"/><line x1="221.2" y1="309.3" x2="225.4" y2="309.3" stroke="#555" stroke-width="0.9"/><polygon points="217.6,294.3 225.0,294.3 221.3,303.6" fill="#bdbdbf" stroke="#555" stroke-width="0.8" stroke-linejoin="round"/><g transform="translate(314.6,285.9) rotate(-90) scale(1.28)"><circle r="33.2" fill="#c3c4c7" stroke="#2e2e2e" stroke-width="0.95"/><circle r="20.0" fill="none" stroke="#2e2e2e" stroke-width="0.9"/><text transform="translate(0.00,-26.40) rotate(0.0) scale(-0.85,1)" x="0" y="3.67" text-anchor="middle" font-size="10.2" font-weight="bold" fill="#1e1e1e" stroke="#1e1e1e" stroke-width="0.4">12</text><text transform="translate(13.20,-22.86) rotate(30.0) scale(-0.85,1)" x="0" y="3.67" text-anchor="middle" font-size="10.2" font-weight="bold" fill="#1e1e1e" stroke="#1e1e1e" stroke-width="0.4">11</text><text transform="translate(22.86,-13.20) rotate(60.0) scale(-0.85,1)" x="0" y="3.67" text-anchor="middle" font-size="10.2" font-weight="bold" fill="#1e1e1e" stroke="#1e1e1e" stroke-width="0.4">10</text><text transform="translate(26.40,-0.00) rotate(90.0) scale(-0.85,1)" x="0" y="3.67" text-anchor="middle" font-size="10.2" font-weight="bold" fill="#1e1e1e" stroke="#1e1e1e" stroke-width="0.4">9</text><text transform="translate(22.86,13.20) rotate(120.0) scale(-0.85,1)" x="0" y="3.67" text-anchor="middle" font-size="10.2" font-weight="bold" fill="#1e1e1e" stroke="#1e1e1e" stroke-width="0.4">8</text><text transform="translate(13.20,22.86) rotate(150.0) scale(-0.85,1)" x="0" y="3.67" text-anchor="middle" font-size="10.2" font-weight="bold" fill="#1e1e1e" stroke="#1e1e1e" stroke-width="0.4">7</text><text transform="translate(0.00,26.40) rotate(180.0) scale(-0.85,1)" x="0" y="3.67" text-anchor="middle" font-size="10.2" font-weight="bold" fill="#1e1e1e" stroke="#1e1e1e" stroke-width="0.4">6</text><text transform="translate(-13.20,22.86) rotate(210.0) scale(-0.85,1)" x="0" y="3.67" text-anchor="middle" font-size="10.2" font-weight="bold" fill="#1e1e1e" stroke="#1e1e1e" stroke-width="0.4">5</text><text transform="translate(-22.86,13.20) rotate(240.0) scale(-0.85,1)" x="0" y="3.67" text-anchor="middle" font-size="10.2" font-weight="bold" fill="#1e1e1e" stroke="#1e1e1e" stroke-width="0.4">4</text><text transform="translate(-26.40,0.00) rotate(270.0) scale(-0.85,1)" x="0" y="3.67" text-anchor="middle" font-size="10.2" font-weight="bold" fill="#1e1e1e" stroke="#1e1e1e" stroke-width="0.4">3</text><text transform="translate(-22.86,-13.20) rotate(300.0) scale(-0.85,1)" x="0" y="3.67" text-anchor="middle" font-size="10.2" font-weight="bold" fill="#1e1e1e" stroke="#1e1e1e" stroke-width="0.4">2</text><text transform="translate(-13.20,-22.86) rotate(330.0) scale(-0.85,1)" x="0" y="3.67" text-anchor="middle" font-size="10.2" font-weight="bold" fill="#1e1e1e" stroke="#1e1e1e" stroke-width="0.4">1</text><text transform="translate(-7,8.1) scale(-0.95,1)" text-anchor="middle" font-size="16.5" font-weight="bold" fill="#1e1e1e">5</text><path d="M6.4,-3.6 L9.4,-3.6 L9.4,8.1 L6.4,8.1 Z M9.1,-3.6 L11.8,-0.96 L11.8,1.2400000000000002 L9.1,-1.2000000000000002 Z" fill="#1e1e1e"/><polygon points="0.00,-15.20 5.15,-7.90 1.30,-7.90 1.30,15.70 -1.30,15.70 -1.30,-7.90 -5.15,-7.90" fill="#c3c4c7" stroke="#2e2e2e" stroke-width="0.9" stroke-linejoin="miter"/></g><g transform="translate(53.4,503.9)"><circle r="33.2" fill="#c3c4c7" stroke="#4a4a4a" stroke-width="0.9"/><circle r="19.8" fill="none" stroke="#4a4a4a" stroke-width="0.8"/><text transform="translate(0.00,-26.40) rotate(0.0) scale(-0.85,1)" x="0" y="3.67" text-anchor="middle" font-size="10.2" font-weight="bold" fill="#1e1e1e" stroke="#1e1e1e" stroke-width="0.4">12</text><text transform="translate(13.20,-22.86) rotate(30.0) scale(-0.85,1)" x="0" y="3.67" text-anchor="middle" font-size="10.2" font-weight="bold" fill="#1e1e1e" stroke="#1e1e1e" stroke-width="0.4">11</text><text transform="translate(22.86,-13.20) rotate(60.0) scale(-0.85,1)" x="0" y="3.67" text-anchor="middle" font-size="10.2" font-weight="bold" fill="#1e1e1e" stroke="#1e1e1e" stroke-width="0.4">10</text><text transform="translate(26.40,-0.00) rotate(90.0) scale(-0.85,1)" x="0" y="3.67" text-anchor="middle" font-size="10.2" font-weight="bold" fill="#1e1e1e" stroke="#1e1e1e" stroke-width="0.4">9</text><text transform="translate(22.86,13.20) rotate(120.0) scale(-0.85,1)" x="0" y="3.67" text-anchor="middle" font-size="10.2" font-weight="bold" fill="#1e1e1e" stroke="#1e1e1e" stroke-width="0.4">8</text><text transform="translate(13.20,22.86) rotate(150.0) scale(-0.85,1)" x="0" y="3.67" text-anchor="middle" font-size="10.2" font-weight="bold" fill="#1e1e1e" stroke="#1e1e1e" stroke-width="0.4">7</text><text transform="translate(0.00,26.40) rotate(180.0) scale(-0.85,1)" x="0" y="3.67" text-anchor="middle" font-size="10.2" font-weight="bold" fill="#1e1e1e" stroke="#1e1e1e" stroke-width="0.4">6</text><text transform="translate(-13.20,22.86) rotate(210.0) scale(-0.85,1)" x="0" y="3.67" text-anchor="middle" font-size="10.2" font-weight="bold" fill="#1e1e1e" stroke="#1e1e1e" stroke-width="0.4">5</text><text transform="translate(-22.86,13.20) rotate(240.0) scale(-0.85,1)" x="0" y="3.67" text-anchor="middle" font-size="10.2" font-weight="bold" fill="#1e1e1e" stroke="#1e1e1e" stroke-width="0.4">4</text><text transform="translate(-26.40,0.00) rotate(270.0) scale(-0.85,1)" x="0" y="3.67" text-anchor="middle" font-size="10.2" font-weight="bold" fill="#1e1e1e" stroke="#1e1e1e" stroke-width="0.4">3</text><text transform="translate(-22.86,-13.20) rotate(300.0) scale(-0.85,1)" x="0" y="3.67" text-anchor="middle" font-size="10.2" font-weight="bold" fill="#1e1e1e" stroke="#1e1e1e" stroke-width="0.4">2</text><text transform="translate(-13.20,-22.86) rotate(330.0) scale(-0.85,1)" x="0" y="3.67" text-anchor="middle" font-size="10.2" font-weight="bold" fill="#1e1e1e" stroke="#1e1e1e" stroke-width="0.4">1</text><polygon points="0.00,-15.20 5.15,-7.90 1.30,-7.90 1.30,15.70 -1.30,15.70 -1.30,-7.90 -5.15,-7.90" fill="#c3c4c7" stroke="#3a3a3a" stroke-width="0.8" stroke-linejoin="miter"/></g><g transform="translate(142.0,505.2)"><circle r="33.2" fill="#c3c4c7" stroke="#4a4a4a" stroke-width="0.9"/><circle r="19.8" fill="none" stroke="#4a4a4a" stroke-width="0.8"/><text transform="translate(0.00,-26.40) rotate(0.0) scale(-0.85,1)" x="0" y="3.67" text-anchor="middle" font-size="10.2" font-weight="bold" fill="#1e1e1e" stroke="#1e1e1e" stroke-width="0.4">12</text><text transform="translate(13.20,-22.86) rotate(30.0) scale(-0.85,1)" x="0" y="3.67" text-anchor="middle" font-size="10.2" font-weight="bold" fill="#1e1e1e" stroke="#1e1e1e" stroke-width="0.4">11</text><text transform="translate(22.86,-13.20) rotate(60.0) scale(-0.85,1)" x="0" y="3.67" text-anchor="middle" font-size="10.2" font-weight="bold" fill="#1e1e1e" stroke="#1e1e1e" stroke-width="0.4">10</text><text transform="translate(26.40,-0.00) rotate(90.0) scale(-0.85,1)" x="0" y="3.67" text-anchor="middle" font-size="10.2" font-weight="bold" fill="#1e1e1e" stroke="#1e1e1e" stroke-width="0.4">9</text><text transform="translate(22.86,13.20) rotate(120.0) scale(-0.85,1)" x="0" y="3.67" text-anchor="middle" font-size="10.2" font-weight="bold" fill="#1e1e1e" stroke="#1e1e1e" stroke-width="0.4">8</text><text transform="translate(13.20,22.86) rotate(150.0) scale(-0.85,1)" x="0" y="3.67" text-anchor="middle" font-size="10.2" font-weight="bold" fill="#1e1e1e" stroke="#1e1e1e" stroke-width="0.4">7</text><text transform="translate(0.00,26.40) rotate(180.0) scale(-0.85,1)" x="0" y="3.67" text-anchor="middle" font-size="10.2" font-weight="bold" fill="#1e1e1e" stroke="#1e1e1e" stroke-width="0.4">6</text><text transform="translate(-13.20,22.86) rotate(210.0) scale(-0.85,1)" x="0" y="3.67" text-anchor="middle" font-size="10.2" font-weight="bold" fill="#1e1e1e" stroke="#1e1e1e" stroke-width="0.4">5</text><text transform="translate(-22.86,13.20) rotate(240.0) scale(-0.85,1)" x="0" y="3.67" text-anchor="middle" font-size="10.2" font-weight="bold" fill="#1e1e1e" stroke="#1e1e1e" stroke-width="0.4">4</text><text transform="translate(-26.40,0.00) rotate(270.0) scale(-0.85,1)" x="0" y="3.67" text-anchor="middle" font-size="10.2" font-weight="bold" fill="#1e1e1e" stroke="#1e1e1e" stroke-width="0.4">3</text><text transform="translate(-22.86,-13.20) rotate(300.0) scale(-0.85,1)" x="0" y="3.67" text-anchor="middle" font-size="10.2" font-weight="bold" fill="#1e1e1e" stroke="#1e1e1e" stroke-width="0.4">2</text><text transform="translate(-13.20,-22.86) rotate(330.0) scale(-0.85,1)" x="0" y="3.67" text-anchor="middle" font-size="10.2" font-weight="bold" fill="#1e1e1e" stroke="#1e1e1e" stroke-width="0.4">1</text><text transform="translate(-11,9.8) scale(-0.9,1)" text-anchor="middle" font-size="24" font-weight="bold" fill="#1e1e1e">5</text><path d="M6.9,-7.5 L11.100000000000001,-7.5 L11.100000000000001,10.2 L6.9,10.2 Z M10.8,-7.5 L14.400000000000002,-3.87 L14.400000000000002,-1.67 L10.8,-5.1 Z" fill="#1e1e1e"/><polygon points="0.00,-15.20 5.15,-7.90 1.30,-7.90 1.30,15.70 -1.30,15.70 -1.30,-7.90 -5.15,-7.90" fill="#c3c4c7" stroke="#3a3a3a" stroke-width="0.8" stroke-linejoin="miter"/></g><rect x="200.7" y="468.6" width="87" height="73" fill="#f6f8fb"/><g transform="translate(246.4,505.0)"><circle r="33.2" fill="#c3c4c7" stroke="#5a4a46" stroke-width="0.9"/><circle r="19.8" fill="none" stroke="#4a4a4a" stroke-width="0.8"/><text transform="translate(-3.62,-25.75) rotate(-8.0) scale(-0.85,1)" x="0" y="3.46" text-anchor="middle" font-size="9.6" font-weight="normal" fill="#1e1e1e" stroke="#1e1e1e" stroke-width="0.4">05</text><text transform="translate(16.71,-19.92) rotate(40.0) scale(-0.85,1)" x="0" y="3.46" text-anchor="middle" font-size="9.6" font-weight="normal" fill="#1e1e1e" stroke="#1e1e1e" stroke-width="0.4">11</text><text transform="translate(25.98,0.91) rotate(92.0) scale(-0.85,1)" x="0" y="3.46" text-anchor="middle" font-size="9.6" font-weight="normal" fill="#1e1e1e" stroke="#1e1e1e" stroke-width="0.4">10</text><text transform="translate(16.71,19.92) rotate(140.0) scale(-0.85,1)" x="0" y="3.46" text-anchor="middle" font-size="9.6" font-weight="normal" fill="#1e1e1e" stroke="#1e1e1e" stroke-width="0.4">09</text><text transform="translate(-3.62,25.75) rotate(188.0) scale(-0.85,1)" x="0" y="3.46" text-anchor="middle" font-size="9.6" font-weight="normal" fill="#1e1e1e" stroke="#1e1e1e" stroke-width="0.4">08</text><text transform="translate(-22.52,13.00) rotate(240.0) scale(-0.85,1)" x="0" y="3.46" text-anchor="middle" font-size="9.6" font-weight="normal" fill="#1e1e1e" stroke="#1e1e1e" stroke-width="0.4">07</text><text transform="translate(-23.56,-10.99) rotate(295.0) scale(-0.85,1)" x="0" y="3.46" text-anchor="middle" font-size="9.6" font-weight="normal" fill="#1e1e1e" stroke="#1e1e1e" stroke-width="0.4">06</text><polygon points="0.00,-15.20 5.15,-7.90 1.30,-7.90 1.30,15.70 -1.30,15.70 -1.30,-7.90 -5.15,-7.90" fill="#c3c4c7" stroke="#3a3a3a" stroke-width="0.8" stroke-linejoin="miter"/></g><g transform="translate(370.5,505.4)"><circle r="33.2" fill="#c3c4c7" stroke="#4a4a4a" stroke-width="0.9"/><circle r="19.8" fill="none" stroke="#4a4a4a" stroke-width="0.8"/><text transform="translate(0.00,-26.20) rotate(0.0) scale(-0.85,1)" x="0" y="3.46" text-anchor="middle" font-size="9.6" font-weight="bold" fill="#1e1e1e" stroke="#1e1e1e" stroke-width="0.4">05</text><text transform="translate(22.69,-13.10) rotate(60.0) scale(-0.85,1)" x="0" y="3.46" text-anchor="middle" font-size="9.6" font-weight="bold" fill="#1e1e1e" stroke="#1e1e1e" stroke-width="0.4">10</text><text transform="translate(22.69,13.10) rotate(120.0) scale(-0.85,1)" x="0" y="3.46" text-anchor="middle" font-size="9.6" font-weight="bold" fill="#1e1e1e" stroke="#1e1e1e" stroke-width="0.4">09</text><text transform="translate(0.00,26.20) rotate(180.0) scale(-0.85,1)" x="0" y="3.46" text-anchor="middle" font-size="9.6" font-weight="bold" fill="#1e1e1e" stroke="#1e1e1e" stroke-width="0.4">08</text><text transform="translate(-22.69,13.10) rotate(240.0) scale(-0.85,1)" x="0" y="3.46" text-anchor="middle" font-size="9.6" font-weight="bold" fill="#1e1e1e" stroke="#1e1e1e" stroke-width="0.4">07</text><text transform="translate(-22.69,-13.10) rotate(300.0) scale(-0.85,1)" x="0" y="3.46" text-anchor="middle" font-size="9.6" font-weight="bold" fill="#1e1e1e" stroke="#1e1e1e" stroke-width="0.4">06</text><polygon points="0.00,-15.20 5.15,-7.90 1.30,-7.90 1.30,15.70 -1.30,15.70 -1.30,-7.90 -5.15,-7.90" fill="#c3c4c7" stroke="#3a3a3a" stroke-width="0.8" stroke-linejoin="miter"/></g><g transform="translate(500.4,505.4)"><circle r="32.6" fill="#c3c4c7" stroke="#4a4a4a" stroke-width="0.9"/><circle r="19.8" fill="none" stroke="#4a4a4a" stroke-width="0.8"/><text transform="translate(-18.24,-18.24) rotate(-45.0) scale(-0.8,1)" x="0" y="3.67" text-anchor="middle" font-size="10.2" font-weight="bold" fill="#1e1e1e" stroke="#1e1e1e" stroke-width="0.4">5</text><text transform="translate(-7.11,-24.80) rotate(-16.0) scale(-0.8,1)" x="0" y="3.67" text-anchor="middle" font-size="10.2" font-weight="bold" fill="#1e1e1e" stroke="#1e1e1e" stroke-width="0.4">1</text><text transform="translate(6.24,-25.03) rotate(14.0) scale(-0.8,1)" x="0" y="3.67" text-anchor="middle" font-size="10.2" font-weight="bold" fill="#1e1e1e" stroke="#1e1e1e" stroke-width="0.4">50</text><text transform="translate(18.24,-18.24) rotate(45.0) scale(-0.8,1)" x="0" y="3.67" text-anchor="middle" font-size="10.2" font-weight="bold" fill="#1e1e1e" stroke="#1e1e1e" stroke-width="0.4">45</text><text transform="translate(25.41,-4.48) rotate(80.0) scale(-0.8,1)" x="0" y="3.67" text-anchor="middle" font-size="10.2" font-weight="bold" fill="#1e1e1e" stroke="#1e1e1e" stroke-width="0.4">40</text><text transform="translate(23.75,10.08) rotate(113.0) scale(-0.8,1)" x="0" y="3.67" text-anchor="middle" font-size="10.2" font-weight="bold" fill="#1e1e1e" stroke="#1e1e1e" stroke-width="0.4">35</text><text transform="translate(14.80,21.13) rotate(145.0) scale(-0.8,1)" x="0" y="3.67" text-anchor="middle" font-size="10.2" font-weight="bold" fill="#1e1e1e" stroke="#1e1e1e" stroke-width="0.4">30</text><text transform="translate(0.00,25.80) rotate(180.0) scale(-0.8,1)" x="0" y="3.67" text-anchor="middle" font-size="10.2" font-weight="bold" fill="#1e1e1e" stroke="#1e1e1e" stroke-width="0.4">25</text><text transform="translate(-14.80,21.13) rotate(215.0) scale(-0.8,1)" x="0" y="3.67" text-anchor="middle" font-size="10.2" font-weight="bold" fill="#1e1e1e" stroke="#1e1e1e" stroke-width="0.4">20</text><text transform="translate(-23.75,10.08) rotate(247.0) scale(-0.8,1)" x="0" y="3.67" text-anchor="middle" font-size="10.2" font-weight="bold" fill="#1e1e1e" stroke="#1e1e1e" stroke-width="0.4">15</text><text transform="translate(-25.41,-4.48) rotate(280.0) scale(-0.8,1)" x="0" y="3.67" text-anchor="middle" font-size="10.2" font-weight="bold" fill="#1e1e1e" stroke="#1e1e1e" stroke-width="0.4">10</text><line x1="0.00" y1="-19.80" x2="0.00" y2="-21.60" stroke="#333" stroke-width="0.6"/><line x1="3.10" y1="-19.56" x2="3.38" y2="-21.33" stroke="#333" stroke-width="0.6"/><line x1="6.12" y1="-18.83" x2="6.67" y2="-20.54" stroke="#333" stroke-width="0.6"/><line x1="8.99" y1="-17.64" x2="9.81" y2="-19.25" stroke="#333" stroke-width="0.6"/><line x1="11.64" y1="-16.02" x2="12.70" y2="-17.47" stroke="#333" stroke-width="0.6"/><line x1="14.00" y1="-14.00" x2="15.27" y2="-15.27" stroke="#333" stroke-width="0.6"/><line x1="16.02" y1="-11.64" x2="17.47" y2="-12.70" stroke="#333" stroke-width="0.6"/><line x1="17.64" y1="-8.99" x2="19.25" y2="-9.81" stroke="#333" stroke-width="0.6"/><line x1="18.83" y1="-6.12" x2="20.54" y2="-6.67" stroke="#333" stroke-width="0.6"/><line x1="19.56" y1="-3.10" x2="21.33" y2="-3.38" stroke="#333" stroke-width="0.6"/><line x1="19.80" y1="-0.00" x2="21.60" y2="-0.00" stroke="#333" stroke-width="0.6"/><line x1="19.56" y1="3.10" x2="21.33" y2="3.38" stroke="#333" stroke-width="0.6"/><line x1="18.83" y1="6.12" x2="20.54" y2="6.67" stroke="#333" stroke-width="0.6"/><line x1="17.64" y1="8.99" x2="19.25" y2="9.81" stroke="#333" stroke-width="0.6"/><line x1="16.02" y1="11.64" x2="17.47" y2="12.70" stroke="#333" stroke-width="0.6"/><line x1="14.00" y1="14.00" x2="15.27" y2="15.27" stroke="#333" stroke-width="0.6"/><line x1="11.64" y1="16.02" x2="12.70" y2="17.47" stroke="#333" stroke-width="0.6"/><line x1="8.99" y1="17.64" x2="9.81" y2="19.25" stroke="#333" stroke-width="0.6"/><line x1="6.12" y1="18.83" x2="6.67" y2="20.54" stroke="#333" stroke-width="0.6"/><line x1="3.10" y1="19.56" x2="3.38" y2="21.33" stroke="#333" stroke-width="0.6"/><line x1="0.00" y1="19.80" x2="0.00" y2="21.60" stroke="#333" stroke-width="0.6"/><line x1="-3.10" y1="19.56" x2="-3.38" y2="21.33" stroke="#333" stroke-width="0.6"/><line x1="-6.12" y1="18.83" x2="-6.67" y2="20.54" stroke="#333" stroke-width="0.6"/><line x1="-8.99" y1="17.64" x2="-9.81" y2="19.25" stroke="#333" stroke-width="0.6"/><line x1="-11.64" y1="16.02" x2="-12.70" y2="17.47" stroke="#333" stroke-width="0.6"/><line x1="-14.00" y1="14.00" x2="-15.27" y2="15.27" stroke="#333" stroke-width="0.6"/><line x1="-16.02" y1="11.64" x2="-17.47" y2="12.70" stroke="#333" stroke-width="0.6"/><line x1="-17.64" y1="8.99" x2="-19.25" y2="9.81" stroke="#333" stroke-width="0.6"/><line x1="-18.83" y1="6.12" x2="-20.54" y2="6.67" stroke="#333" stroke-width="0.6"/><line x1="-19.56" y1="3.10" x2="-21.33" y2="3.38" stroke="#333" stroke-width="0.6"/><line x1="-19.80" y1="0.00" x2="-21.60" y2="0.00" stroke="#333" stroke-width="0.6"/><line x1="-19.56" y1="-3.10" x2="-21.33" y2="-3.38" stroke="#333" stroke-width="0.6"/><line x1="-18.83" y1="-6.12" x2="-20.54" y2="-6.67" stroke="#333" stroke-width="0.6"/><line x1="-17.64" y1="-8.99" x2="-19.25" y2="-9.81" stroke="#333" stroke-width="0.6"/><line x1="-16.02" y1="-11.64" x2="-17.47" y2="-12.70" stroke="#333" stroke-width="0.6"/><line x1="-14.00" y1="-14.00" x2="-15.27" y2="-15.27" stroke="#333" stroke-width="0.6"/><line x1="-11.64" y1="-16.02" x2="-12.70" y2="-17.47" stroke="#333" stroke-width="0.6"/><line x1="-8.99" y1="-17.64" x2="-9.81" y2="-19.25" stroke="#333" stroke-width="0.6"/><line x1="-6.12" y1="-18.83" x2="-6.67" y2="-20.54" stroke="#333" stroke-width="0.6"/><line x1="-3.10" y1="-19.56" x2="-3.38" y2="-21.33" stroke="#333" stroke-width="0.6"/><text transform="translate(-11,9.8) scale(-0.9,1)" text-anchor="middle" font-size="24" font-weight="bold" fill="#1e1e1e">5</text><path d="M6.9,-7.5 L11.100000000000001,-7.5 L11.100000000000001,10.2 L6.9,10.2 Z M10.8,-7.5 L14.400000000000002,-3.87 L14.400000000000002,-1.67 L10.8,-5.1 Z" fill="#1e1e1e"/><line x1="0" y1="-21.5" x2="0" y2="-15.0" stroke="#3a3a3a" stroke-width="0.7"/><polyline points="-5.0,-9.6 0,-15.0 5.0,-9.6" fill="none" stroke="#3a3a3a" stroke-width="0.7"/><rect x="-1.45" y="-10.2" width="2.9" height="19.6" fill="#c3c4c7" stroke="#3a3a3a" stroke-width="0.7"/></g><g transform="translate(581.2,505.4)"><circle r="32.9" fill="#c3c4c7" stroke="#4a4a4a" stroke-width="0.9"/><circle r="19.8" fill="none" stroke="#4a4a4a" stroke-width="0.8"/><text transform="translate(-17.26,-19.17) rotate(-42.0) scale(-0.8,1)" x="0" y="3.67" text-anchor="middle" font-size="10.2" font-weight="bold" fill="#1e1e1e" stroke="#1e1e1e" stroke-width="0.4">5</text><text transform="translate(0.90,-25.78) rotate(2.0) scale(-0.8,1)" x="0" y="3.67" text-anchor="middle" font-size="10.2" font-weight="bold" fill="#1e1e1e" stroke="#1e1e1e" stroke-width="0.4">1</text><text transform="translate(9.66,-23.92) rotate(22.0) scale(-0.8,1)" x="0" y="3.67" text-anchor="middle" font-size="10.2" font-weight="bold" fill="#1e1e1e" stroke="#1e1e1e" stroke-width="0.4">30</text><text transform="translate(25.24,-5.36) rotate(78.0) scale(-0.8,1)" x="0" y="3.67" text-anchor="middle" font-size="10.2" font-weight="bold" fill="#1e1e1e" stroke="#1e1e1e" stroke-width="0.4">25</text><text transform="translate(15.88,20.33) rotate(142.0) scale(-0.8,1)" x="0" y="3.67" text-anchor="middle" font-size="10.2" font-weight="bold" fill="#1e1e1e" stroke="#1e1e1e" stroke-width="0.4">20</text><text transform="translate(-8.82,24.24) rotate(200.0) scale(-0.8,1)" x="0" y="3.67" text-anchor="middle" font-size="10.2" font-weight="bold" fill="#1e1e1e" stroke="#1e1e1e" stroke-width="0.4">15</text><text transform="translate(-24.54,7.97) rotate(252.0) scale(-0.8,1)" x="0" y="3.67" text-anchor="middle" font-size="10.2" font-weight="bold" fill="#1e1e1e" stroke="#1e1e1e" stroke-width="0.4">10</text><line x1="0.00" y1="-19.80" x2="0.00" y2="-22.00" stroke="#333" stroke-width="0.6"/><line x1="4.12" y1="-19.37" x2="4.57" y2="-21.52" stroke="#333" stroke-width="0.6"/><line x1="8.05" y1="-18.09" x2="8.95" y2="-20.10" stroke="#333" stroke-width="0.6"/><line x1="11.64" y1="-16.02" x2="12.93" y2="-17.80" stroke="#333" stroke-width="0.6"/><line x1="14.71" y1="-13.25" x2="16.35" y2="-14.72" stroke="#333" stroke-width="0.6"/><line x1="17.15" y1="-9.90" x2="19.05" y2="-11.00" stroke="#333" stroke-width="0.6"/><line x1="18.83" y1="-6.12" x2="20.92" y2="-6.80" stroke="#333" stroke-width="0.6"/><line x1="19.69" y1="-2.07" x2="21.88" y2="-2.30" stroke="#333" stroke-width="0.6"/><line x1="19.69" y1="2.07" x2="21.88" y2="2.30" stroke="#333" stroke-width="0.6"/><line x1="18.83" y1="6.12" x2="20.92" y2="6.80" stroke="#333" stroke-width="0.6"/><line x1="17.15" y1="9.90" x2="19.05" y2="11.00" stroke="#333" stroke-width="0.6"/><line x1="14.71" y1="13.25" x2="16.35" y2="14.72" stroke="#333" stroke-width="0.6"/><line x1="11.64" y1="16.02" x2="12.93" y2="17.80" stroke="#333" stroke-width="0.6"/><line x1="8.05" y1="18.09" x2="8.95" y2="20.10" stroke="#333" stroke-width="0.6"/><line x1="4.12" y1="19.37" x2="4.57" y2="21.52" stroke="#333" stroke-width="0.6"/><line x1="0.00" y1="19.80" x2="0.00" y2="22.00" stroke="#333" stroke-width="0.6"/><line x1="-4.12" y1="19.37" x2="-4.57" y2="21.52" stroke="#333" stroke-width="0.6"/><line x1="-8.05" y1="18.09" x2="-8.95" y2="20.10" stroke="#333" stroke-width="0.6"/><line x1="-11.64" y1="16.02" x2="-12.93" y2="17.80" stroke="#333" stroke-width="0.6"/><line x1="-14.71" y1="13.25" x2="-16.35" y2="14.72" stroke="#333" stroke-width="0.6"/><line x1="-17.15" y1="9.90" x2="-19.05" y2="11.00" stroke="#333" stroke-width="0.6"/><line x1="-18.83" y1="6.12" x2="-20.92" y2="6.80" stroke="#333" stroke-width="0.6"/><line x1="-19.69" y1="2.07" x2="-21.88" y2="2.30" stroke="#333" stroke-width="0.6"/><line x1="-19.69" y1="-2.07" x2="-21.88" y2="-2.30" stroke="#333" stroke-width="0.6"/><line x1="-18.83" y1="-6.12" x2="-20.92" y2="-6.80" stroke="#333" stroke-width="0.6"/><line x1="-17.15" y1="-9.90" x2="-19.05" y2="-11.00" stroke="#333" stroke-width="0.6"/><line x1="-14.71" y1="-13.25" x2="-16.35" y2="-14.72" stroke="#333" stroke-width="0.6"/><line x1="-11.64" y1="-16.02" x2="-12.93" y2="-17.80" stroke="#333" stroke-width="0.6"/><line x1="-8.05" y1="-18.09" x2="-8.95" y2="-20.10" stroke="#333" stroke-width="0.6"/><line x1="-4.12" y1="-19.37" x2="-4.57" y2="-21.52" stroke="#333" stroke-width="0.6"/><line x1="0" y1="-21.5" x2="0" y2="-15.0" stroke="#3a3a3a" stroke-width="0.7"/><polyline points="-5.0,-9.6 0,-15.0 5.0,-9.6" fill="none" stroke="#3a3a3a" stroke-width="0.7"/><rect x="-1.15" y="-10.2" width="2.3" height="19.6" fill="#c3c4c7" stroke="#3a3a3a" stroke-width="0.7"/></g><g transform="translate(651.0,505.1)"><circle r="33.2" fill="#c3c4c7" stroke="#262626" stroke-width="1.9"/><circle r="20.0" fill="none" stroke="#4a4a4a" stroke-width="0.8"/><rect x="-2.7" y="-30" width="1.6" height="7.3" fill="#1e1e1e"/><rect x="0.8" y="-30" width="1.6" height="7.3" fill="#1e1e1e"/><rect x="22.7" y="-0.9" width="7.7" height="1.6" fill="#1e1e1e"/><rect x="-30.8" y="-4.4" width="8.1" height="1.3" fill="#1e1e1e"/><rect x="-30.8" y="-1.3" width="8.1" height="1.3" fill="#1e1e1e"/><rect x="-30.8" y="1.8" width="8.1" height="1.3" fill="#1e1e1e"/><polygon points="0.00,-15.20 5.15,-7.90 1.30,-7.90 1.30,15.70 -1.30,15.70 -1.30,-7.90 -5.15,-7.90" fill="#c3c4c7" stroke="#3a3a3a" stroke-width="0.9" stroke-linejoin="miter"/></g><g transform="translate(726.5,505.2)"><circle r="33.2" fill="#c3c4c7" stroke="#2a2a2a" stroke-width="1.3"/><circle r="20.4" fill="none" stroke="#4a4a4a" stroke-width="1.2"/><text transform="translate(0.00,-27.50) rotate(0.0) scale(-0.95,1)" x="0" y="3.20" text-anchor="middle" font-size="8.9" font-weight="bold" fill="#1e1e1e" stroke="#1e1e1e" stroke-width="0.4">A</text><text transform="translate(12.78,-24.35) rotate(27.7) scale(-0.95,1)" x="0" y="3.20" text-anchor="middle" font-size="8.9" font-weight="bold" fill="#1e1e1e" stroke="#1e1e1e" stroke-width="0.4">M</text><text transform="translate(22.63,-15.62) rotate(55.4) scale(-0.95,1)" x="0" y="3.20" text-anchor="middle" font-size="8.9" font-weight="bold" fill="#1e1e1e" stroke="#1e1e1e" stroke-width="0.4">L</text><text transform="translate(27.30,-3.31) rotate(83.1) scale(-0.95,1)" x="0" y="3.20" text-anchor="middle" font-size="8.9" font-weight="bold" fill="#1e1e1e" stroke="#1e1e1e" stroke-width="0.4">K</text><text transform="translate(25.71,9.75) rotate(110.8) scale(-0.95,1)" x="0" y="3.20" text-anchor="middle" font-size="8.9" font-weight="bold" fill="#1e1e1e" stroke="#1e1e1e" stroke-width="0.4">J</text><text transform="translate(18.24,20.58) rotate(138.5) scale(-0.95,1)" x="0" y="3.20" text-anchor="middle" font-size="8.9" font-weight="bold" fill="#1e1e1e" stroke="#1e1e1e" stroke-width="0.4">I</text><text transform="translate(6.58,26.70) rotate(166.2) scale(-0.95,1)" x="0" y="3.20" text-anchor="middle" font-size="8.9" font-weight="bold" fill="#1e1e1e" stroke="#1e1e1e" stroke-width="0.4">H</text><text transform="translate(-6.58,26.70) rotate(193.8) scale(-0.95,1)" x="0" y="3.20" text-anchor="middle" font-size="8.9" font-weight="bold" fill="#1e1e1e" stroke="#1e1e1e" stroke-width="0.4">G</text><text transform="translate(-18.24,20.58) rotate(221.5) scale(-0.95,1)" x="0" y="3.20" text-anchor="middle" font-size="8.9" font-weight="bold" fill="#1e1e1e" stroke="#1e1e1e" stroke-width="0.4">F</text><text transform="translate(-25.71,9.75) rotate(249.2) scale(-0.95,1)" x="0" y="3.20" text-anchor="middle" font-size="8.9" font-weight="bold" fill="#1e1e1e" stroke="#1e1e1e" stroke-width="0.4">E</text><text transform="translate(-27.30,-3.31) rotate(276.9) scale(-0.95,1)" x="0" y="3.20" text-anchor="middle" font-size="8.9" font-weight="bold" fill="#1e1e1e" stroke="#1e1e1e" stroke-width="0.4">D</text><text transform="translate(-22.63,-15.62) rotate(304.6) scale(-0.95,1)" x="0" y="3.20" text-anchor="middle" font-size="8.9" font-weight="bold" fill="#1e1e1e" stroke="#1e1e1e" stroke-width="0.4">C</text><text transform="translate(-12.78,-24.35) rotate(332.3) scale(-0.95,1)" x="0" y="3.20" text-anchor="middle" font-size="8.9" font-weight="bold" fill="#1e1e1e" stroke="#1e1e1e" stroke-width="0.4">B</text><line x1="4.88" y1="-19.81" x2="5.55" y2="-22.53" stroke="#333" stroke-width="0.8"/><line x1="13.53" y1="-15.27" x2="15.38" y2="-17.37" stroke="#333" stroke-width="0.8"/><line x1="19.07" y1="-7.23" x2="21.69" y2="-8.23" stroke="#333" stroke-width="0.8"/><line x1="20.25" y1="2.46" x2="23.03" y2="2.80" stroke="#333" stroke-width="0.8"/><line x1="16.79" y1="11.59" x2="19.09" y2="13.18" stroke="#333" stroke-width="0.8"/><line x1="9.48" y1="18.06" x2="10.78" y2="20.54" stroke="#333" stroke-width="0.8"/><line x1="0.00" y1="20.40" x2="0.00" y2="23.20" stroke="#333" stroke-width="0.8"/><line x1="-9.48" y1="18.06" x2="-10.78" y2="20.54" stroke="#333" stroke-width="0.8"/><line x1="-16.79" y1="11.59" x2="-19.09" y2="13.18" stroke="#333" stroke-width="0.8"/><line x1="-20.25" y1="2.46" x2="-23.03" y2="2.80" stroke="#333" stroke-width="0.8"/><line x1="-19.07" y1="-7.23" x2="-21.69" y2="-8.23" stroke="#333" stroke-width="0.8"/><line x1="-13.53" y1="-15.27" x2="-15.38" y2="-17.37" stroke="#333" stroke-width="0.8"/><line x1="-4.88" y1="-19.81" x2="-5.55" y2="-22.53" stroke="#333" stroke-width="0.8"/><line x1="0.00" y1="-20.40" x2="0.00" y2="-23.20" stroke="#333" stroke-width="0.8"/><polygon points="0.00,-15.20 5.15,-7.90 1.30,-7.90 1.30,15.70 -1.30,15.70 -1.30,-7.90 -5.15,-7.90" fill="#c3c4c7" stroke="#1e1e1e" stroke-width="1.1" stroke-linejoin="miter"/></g><g transform="translate(802.5,505.2)"><circle r="33.2" fill="#c3c4c7" stroke="#4a4a4a" stroke-width="0.9"/><circle r="19.8" fill="none" stroke="#4a4a4a" stroke-width="0.8"/><text transform="translate(0.00,-27.50) rotate(0.0) scale(-0.95,1)" x="0" y="3.20" text-anchor="middle" font-size="8.9" font-weight="bold" fill="#1e1e1e" stroke="#1e1e1e" stroke-width="0.4">N</text><text transform="translate(12.78,-24.35) rotate(27.7) scale(-0.95,1)" x="0" y="3.20" text-anchor="middle" font-size="8.9" font-weight="bold" fill="#1e1e1e" stroke="#1e1e1e" stroke-width="0.4">Z</text><text transform="translate(22.63,-15.62) rotate(55.4) scale(-0.95,1)" x="0" y="3.20" text-anchor="middle" font-size="8.9" font-weight="bold" fill="#1e1e1e" stroke="#1e1e1e" stroke-width="0.4">Y</text><text transform="translate(27.30,-3.31) rotate(83.1) scale(-0.95,1)" x="0" y="3.20" text-anchor="middle" font-size="8.9" font-weight="bold" fill="#1e1e1e" stroke="#1e1e1e" stroke-width="0.4">X</text><text transform="translate(25.71,9.75) rotate(110.8) scale(-0.95,1)" x="0" y="3.20" text-anchor="middle" font-size="8.9" font-weight="bold" fill="#1e1e1e" stroke="#1e1e1e" stroke-width="0.4">W</text><text transform="translate(18.24,20.58) rotate(138.5) scale(-0.95,1)" x="0" y="3.20" text-anchor="middle" font-size="8.9" font-weight="bold" fill="#1e1e1e" stroke="#1e1e1e" stroke-width="0.4">V</text><text transform="translate(6.58,26.70) rotate(166.2) scale(-0.95,1)" x="0" y="3.20" text-anchor="middle" font-size="8.9" font-weight="bold" fill="#1e1e1e" stroke="#1e1e1e" stroke-width="0.4">U</text><text transform="translate(-6.58,26.70) rotate(193.8) scale(-0.95,1)" x="0" y="3.20" text-anchor="middle" font-size="8.9" font-weight="bold" fill="#1e1e1e" stroke="#1e1e1e" stroke-width="0.4">T</text><text transform="translate(-18.24,20.58) rotate(221.5) scale(-0.95,1)" x="0" y="3.20" text-anchor="middle" font-size="8.9" font-weight="bold" fill="#1e1e1e" stroke="#1e1e1e" stroke-width="0.4">S</text><text transform="translate(-25.71,9.75) rotate(249.2) scale(-0.95,1)" x="0" y="3.20" text-anchor="middle" font-size="8.9" font-weight="bold" fill="#1e1e1e" stroke="#1e1e1e" stroke-width="0.4">R</text><text transform="translate(-27.30,-3.31) rotate(276.9) scale(-0.95,1)" x="0" y="3.20" text-anchor="middle" font-size="8.9" font-weight="bold" fill="#1e1e1e" stroke="#1e1e1e" stroke-width="0.4">Q</text><text transform="translate(-22.63,-15.62) rotate(304.6) scale(-0.95,1)" x="0" y="3.20" text-anchor="middle" font-size="8.9" font-weight="bold" fill="#1e1e1e" stroke="#1e1e1e" stroke-width="0.4">P</text><text transform="translate(-12.78,-24.35) rotate(332.3) scale(-0.95,1)" x="0" y="3.20" text-anchor="middle" font-size="8.9" font-weight="bold" fill="#1e1e1e" stroke="#1e1e1e" stroke-width="0.4">O</text><line x1="4.74" y1="-19.22" x2="5.38" y2="-21.85" stroke="#333" stroke-width="0.7"/><line x1="13.13" y1="-14.82" x2="14.92" y2="-16.84" stroke="#333" stroke-width="0.7"/><line x1="18.51" y1="-7.02" x2="21.04" y2="-7.98" stroke="#333" stroke-width="0.7"/><line x1="19.66" y1="2.39" x2="22.34" y2="2.71" stroke="#333" stroke-width="0.7"/><line x1="16.30" y1="11.25" x2="18.52" y2="12.78" stroke="#333" stroke-width="0.7"/><line x1="9.20" y1="17.53" x2="10.46" y2="19.92" stroke="#333" stroke-width="0.7"/><line x1="0.00" y1="19.80" x2="0.00" y2="22.50" stroke="#333" stroke-width="0.7"/><line x1="-9.20" y1="17.53" x2="-10.46" y2="19.92" stroke="#333" stroke-width="0.7"/><line x1="-16.30" y1="11.25" x2="-18.52" y2="12.78" stroke="#333" stroke-width="0.7"/><line x1="-19.66" y1="2.39" x2="-22.34" y2="2.71" stroke="#333" stroke-width="0.7"/><line x1="-18.51" y1="-7.02" x2="-21.04" y2="-7.98" stroke="#333" stroke-width="0.7"/><line x1="-13.13" y1="-14.82" x2="-14.92" y2="-16.84" stroke="#333" stroke-width="0.7"/><line x1="-4.74" y1="-19.22" x2="-5.38" y2="-21.85" stroke="#333" stroke-width="0.7"/><line x1="0.00" y1="-19.80" x2="0.00" y2="-22.50" stroke="#333" stroke-width="0.7"/><polygon points="0.00,-15.20 5.15,-7.90 1.30,-7.90 1.30,15.70 -1.30,15.70 -1.30,-7.90 -5.15,-7.90" fill="#c3c4c7" stroke="#3a3a3a" stroke-width="0.8" stroke-linejoin="miter"/></g><g transform="translate(879.2,505.3)"><circle r="33.2" fill="#c3c4c7" stroke="#4a4a4a" stroke-width="0.9"/><circle r="19.8" fill="none" stroke="#4a4a4a" stroke-width="0.8"/><polygon points="0.00,-15.20 5.15,-7.90 1.30,-7.90 1.30,15.70 -1.30,15.70 -1.30,-7.90 -5.15,-7.90" fill="#c3c4c7" stroke="#3a3a3a" stroke-width="0.8" stroke-linejoin="miter"/></g><g transform="translate(52.3,865.6)"><circle r="33.3" fill="#c3c4c7" stroke="#4a4a4a" stroke-width="0.9"/><circle r="20.0" fill="none" stroke="#4a4a4a" stroke-width="0.8"/><text transform="translate(-11.20,-24.02) rotate(-25.0) scale(0.85,1)" x="0" y="4.32" text-anchor="middle" font-size="12" font-weight="bold" fill="#1e1e1e" stroke="#1e1e1e" stroke-width="0.4">?</text><text transform="translate(0.00,-26.50) rotate(0.0) scale(0.85,1)" x="0" y="4.32" text-anchor="middle" font-size="12" font-weight="bold" fill="#1e1e1e" stroke="#1e1e1e" stroke-width="0.4">?</text><text transform="translate(11.20,-24.02) rotate(25.0) scale(0.85,1)" x="0" y="4.32" text-anchor="middle" font-size="12" font-weight="bold" fill="#1e1e1e" stroke="#1e1e1e" stroke-width="0.4">?</text><polygon points="0.00,-15.20 5.15,-7.90 1.30,-7.90 1.30,15.70 -1.30,15.70 -1.30,-7.90 -5.15,-7.90" fill="#c3c4c7" stroke="#3a3a3a" stroke-width="0.8" stroke-linejoin="miter"/></g><text x="54.7" y="462.6" text-anchor="middle" font-size="13.5" textLength="21.5" lengthAdjust="spacingAndGlyphs" fill="#1e1e1e" stroke="#1e1e1e" stroke-width="0.3">FOM</text><text x="141.5" y="462.6" text-anchor="middle" font-size="13.5" textLength="21.5" lengthAdjust="spacingAndGlyphs" fill="#1e1e1e" stroke="#1e1e1e" stroke-width="0.3">FYM</text><text x="247.1" y="462.6" text-anchor="middle" font-size="13.5" textLength="19.5" lengthAdjust="spacingAndGlyphs" fill="#1e1e1e" stroke="#1e1e1e" stroke-width="0.3">FOY</text><text x="369.7" y="462.6" text-anchor="middle" font-size="13.5" textLength="19.5" lengthAdjust="spacingAndGlyphs" fill="#1e1e1e" stroke="#1e1e1e" stroke-width="0.3">FOY</text><text x="500.0" y="462.6" text-anchor="middle" font-size="13.5" textLength="21.0" lengthAdjust="spacingAndGlyphs" fill="#1e1e1e" stroke="#1e1e1e" stroke-width="0.3">FYW</text><text x="581.8" y="462.6" text-anchor="middle" font-size="13.5" textLength="19.5" lengthAdjust="spacingAndGlyphs" fill="#1e1e1e" stroke="#1e1e1e" stroke-width="0.3">FOD</text><text x="651.5" y="462.6" text-anchor="middle" font-size="13.5" textLength="19.5" lengthAdjust="spacingAndGlyphs" fill="#1e1e1e" stroke="#1e1e1e" stroke-width="0.3">FOS</text><text x="726.5" y="462.6" text-anchor="middle" font-size="13.5" textLength="20.5" lengthAdjust="spacingAndGlyphs" fill="#1e1e1e" stroke="#1e1e1e" stroke-width="0.3">FAM</text><text x="802.3" y="462.6" text-anchor="middle" font-size="13.5" textLength="19.5" lengthAdjust="spacingAndGlyphs" fill="#1e1e1e" stroke="#1e1e1e" stroke-width="0.3">FNZ</text><text x="879.3" y="462.6" text-anchor="middle" font-size="13.5" textLength="20.0" lengthAdjust="spacingAndGlyphs" fill="#1e1e1e" stroke="#1e1e1e" stroke-width="0.3">FOB</text><text x="51.8" y="551.3" text-anchor="middle" font-size="13" textLength="61.5" lengthAdjust="spacingAndGlyphs" fill="#1e1e1e" stroke="#1e1e1e" stroke-width="0.3">only month</text><text x="142.3" y="551.3" text-anchor="middle" font-size="13" textLength="67.4" lengthAdjust="spacingAndGlyphs" fill="#1e1e1e" stroke="#1e1e1e" stroke-width="0.3">year - month</text><text x="248.5" y="551.3" text-anchor="middle" font-size="13" textLength="47.8" lengthAdjust="spacingAndGlyphs" fill="#1e1e1e" stroke="#1e1e1e" stroke-width="0.3">only year</text><text x="371.0" y="551.3" text-anchor="middle" font-size="13" textLength="47.8" lengthAdjust="spacingAndGlyphs" fill="#1e1e1e" stroke="#1e1e1e" stroke-width="0.3">only year</text><text x="500.0" y="551.3" text-anchor="middle" font-size="13" textLength="60.0" lengthAdjust="spacingAndGlyphs" fill="#1e1e1e" stroke="#1e1e1e" stroke-width="0.3">year - week</text><text x="581.8" y="551.3" text-anchor="middle" font-size="13" textLength="44.5" lengthAdjust="spacingAndGlyphs" fill="#1e1e1e" stroke="#1e1e1e" stroke-width="0.3">only day</text><text x="652.0" y="551.3" text-anchor="middle" font-size="13" textLength="48.0" lengthAdjust="spacingAndGlyphs" fill="#1e1e1e" stroke="#1e1e1e" stroke-width="0.3">only shift</text><text x="726.5" y="551.3" text-anchor="middle" font-size="13" textLength="35.0" lengthAdjust="spacingAndGlyphs" fill="#1e1e1e" stroke="#1e1e1e" stroke-width="0.3">A -> M</text><text x="803.0" y="551.3" text-anchor="middle" font-size="13" textLength="32.0" lengthAdjust="spacingAndGlyphs" fill="#1e1e1e" stroke="#1e1e1e" stroke-width="0.3">N -> Z</text><text x="879.3" y="551.3" text-anchor="middle" font-size="13" textLength="55.5" lengthAdjust="spacingAndGlyphs" fill="#1e1e1e" stroke="#1e1e1e" stroke-width="0.3">only blank</text><defs><clipPath id="cb"><path d="M477.7,243.4 L545.7,243.4 L545.7,247.6 L577.6,247.6 Q579.6,247.6 579.6,249.6 L579.6,320.9 Q579.6,322.9 577.6,322.9 L545.7,322.9 L545.7,327.6 L477.7,327.6 Z M478.6,263.9 L562.4,263.9 L562.4,275.2 L579.6,275.2 L579.6,295.0 L562.4,295.0 L562.4,306.6 L478.6,306.6 Z" clip-rule="evenodd"/></clipPath></defs><path d="M477.7,243.4 L545.7,243.4 L545.7,247.6 L577.6,247.6 Q579.6,247.6 579.6,249.6 L579.6,320.9 Q579.6,322.9 577.6,322.9 L545.7,322.9 L545.7,327.6 L477.7,327.6 Z" fill="#b8b9bd" stroke="none"/><g clip-path="url(#cb)"><line x1="371.70" y1="328" x2="456.70" y2="243" stroke="#2a2a2a" stroke-width="0.6"/><line x1="386.50" y1="328" x2="471.50" y2="243" stroke="#2a2a2a" stroke-width="0.6"/><line x1="401.30" y1="328" x2="486.30" y2="243" stroke="#2a2a2a" stroke-width="0.6"/><line x1="416.10" y1="328" x2="501.10" y2="243" stroke="#2a2a2a" stroke-width="0.6"/><line x1="430.90" y1="328" x2="515.90" y2="243" stroke="#2a2a2a" stroke-width="0.6"/><line x1="445.70" y1="328" x2="530.70" y2="243" stroke="#2a2a2a" stroke-width="0.6"/><line x1="460.50" y1="328" x2="545.50" y2="243" stroke="#2a2a2a" stroke-width="0.6"/><line x1="475.30" y1="328" x2="560.30" y2="243" stroke="#2a2a2a" stroke-width="0.6"/><line x1="490.10" y1="328" x2="575.10" y2="243" stroke="#2a2a2a" stroke-width="0.6"/><line x1="504.90" y1="328" x2="589.90" y2="243" stroke="#2a2a2a" stroke-width="0.6"/><line x1="519.70" y1="328" x2="604.70" y2="243" stroke="#2a2a2a" stroke-width="0.6"/><line x1="534.50" y1="328" x2="619.50" y2="243" stroke="#2a2a2a" stroke-width="0.6"/><line x1="549.30" y1="328" x2="634.30" y2="243" stroke="#2a2a2a" stroke-width="0.6"/><line x1="564.10" y1="328" x2="649.10" y2="243" stroke="#2a2a2a" stroke-width="0.6"/><line x1="578.90" y1="328" x2="663.90" y2="243" stroke="#2a2a2a" stroke-width="0.6"/><line x1="593.70" y1="328" x2="678.70" y2="243" stroke="#2a2a2a" stroke-width="0.6"/></g><path d="M477.7,243.4 L545.7,243.4 L545.7,247.6 L577.6,247.6 Q579.6,247.6 579.6,249.6 L579.6,320.9 Q579.6,322.9 577.6,322.9 L545.7,322.9 L545.7,327.6 L477.7,327.6 Z" fill="none" stroke="#1e1e1e" stroke-width="1.3"/><rect x="478.3" y="246.8" width="1.8" height="12.6" fill="#c8c9cc" stroke="#333" stroke-width="0.5"/><rect x="478.3" y="311.2" width="1.8" height="12.6" fill="#c8c9cc" stroke="#333" stroke-width="0.5"/><path d="M478.6,263.9 L562.4,263.9 L562.4,275.2 L579.6,275.2 L579.6,295.0 L562.4,295.0 L562.4,306.6 L478.6,306.6 Z" fill="#c2c3c6" stroke="#1e1e1e" stroke-width="1.4"/><path d="M480.3,264.8 L501.2,264.8 L501.2,306.0 L480.3,306.0 Z" fill="#babbbf" stroke="#1e1e1e" stroke-width="1.1"/><path d="M480.3,264.8 L476.8,265.6 L475.6,267 L475.6,282.6 L480.3,282.6 Z" fill="#b0b1b5" stroke="#333" stroke-width="0.6"/><path d="M480.3,287.6 L475.6,287.6 L475.6,303.8 L476.8,305.2 L480.3,306 Z" fill="#b0b1b5" stroke="#333" stroke-width="0.6"/><rect x="480.3" y="283.7" width="5.8" height="3.6" fill="#c8c9cc" stroke="#222" stroke-width="0.7"/><rect x="501.2" y="275.1" width="43.5" height="20.9" fill="#c0c1c5" stroke="#1e1e1e" stroke-width="1.1"/><rect x="544.7" y="276.7" width="33" height="17.7" fill="#c0c1c5" stroke="#1e1e1e" stroke-width="1.0"/><rect x="576.6" y="276.7" width="1.6" height="17.7" fill="#555"/><defs><clipPath id="ch"><rect x="501.5" y="264" width="60.7" height="43"/></clipPath></defs><g clip-path="url(#ch)"><circle cx="503.80" cy="270.0" r="2.0" fill="none" stroke="#2a2a2a" stroke-width="0.7"/><line x1="501.20" y1="273.2" x2="506.40" y2="273.2" stroke="#2a2a2a" stroke-width="0.6"/><circle cx="503.80" cy="300.6" r="2.0" fill="none" stroke="#2a2a2a" stroke-width="0.7"/><line x1="501.20" y1="297.40000000000003" x2="506.40" y2="297.40000000000003" stroke="#2a2a2a" stroke-width="0.6"/><circle cx="512.66" cy="270.0" r="2.0" fill="none" stroke="#2a2a2a" stroke-width="0.7"/><line x1="510.06" y1="273.2" x2="515.26" y2="273.2" stroke="#2a2a2a" stroke-width="0.6"/><circle cx="512.66" cy="300.6" r="2.0" fill="none" stroke="#2a2a2a" stroke-width="0.7"/><line x1="510.06" y1="297.40000000000003" x2="515.26" y2="297.40000000000003" stroke="#2a2a2a" stroke-width="0.6"/><circle cx="521.52" cy="270.0" r="2.0" fill="none" stroke="#2a2a2a" stroke-width="0.7"/><line x1="518.92" y1="273.2" x2="524.12" y2="273.2" stroke="#2a2a2a" stroke-width="0.6"/><circle cx="521.52" cy="300.6" r="2.0" fill="none" stroke="#2a2a2a" stroke-width="0.7"/><line x1="518.92" y1="297.40000000000003" x2="524.12" y2="297.40000000000003" stroke="#2a2a2a" stroke-width="0.6"/><circle cx="530.38" cy="270.0" r="2.0" fill="none" stroke="#2a2a2a" stroke-width="0.7"/><line x1="527.78" y1="273.2" x2="532.98" y2="273.2" stroke="#2a2a2a" stroke-width="0.6"/><circle cx="530.38" cy="300.6" r="2.0" fill="none" stroke="#2a2a2a" stroke-width="0.7"/><line x1="527.78" y1="297.40000000000003" x2="532.98" y2="297.40000000000003" stroke="#2a2a2a" stroke-width="0.6"/><circle cx="539.24" cy="270.0" r="2.0" fill="none" stroke="#2a2a2a" stroke-width="0.7"/><line x1="536.64" y1="273.2" x2="541.84" y2="273.2" stroke="#2a2a2a" stroke-width="0.6"/><circle cx="539.24" cy="300.6" r="2.0" fill="none" stroke="#2a2a2a" stroke-width="0.7"/><line x1="536.64" y1="297.40000000000003" x2="541.84" y2="297.40000000000003" stroke="#2a2a2a" stroke-width="0.6"/><circle cx="548.10" cy="270.0" r="2.0" fill="none" stroke="#2a2a2a" stroke-width="0.7"/><line x1="545.50" y1="273.2" x2="550.70" y2="273.2" stroke="#2a2a2a" stroke-width="0.6"/><circle cx="548.10" cy="300.6" r="2.0" fill="none" stroke="#2a2a2a" stroke-width="0.7"/><line x1="545.50" y1="297.40000000000003" x2="550.70" y2="297.40000000000003" stroke="#2a2a2a" stroke-width="0.6"/><circle cx="556.96" cy="270.0" r="2.0" fill="none" stroke="#2a2a2a" stroke-width="0.7"/><line x1="554.36" y1="273.2" x2="559.56" y2="273.2" stroke="#2a2a2a" stroke-width="0.6"/><circle cx="556.96" cy="300.6" r="2.0" fill="none" stroke="#2a2a2a" stroke-width="0.7"/><line x1="554.36" y1="297.40000000000003" x2="559.56" y2="297.40000000000003" stroke="#2a2a2a" stroke-width="0.6"/><circle cx="565.82" cy="270.0" r="2.0" fill="none" stroke="#2a2a2a" stroke-width="0.7"/><line x1="563.22" y1="273.2" x2="568.42" y2="273.2" stroke="#2a2a2a" stroke-width="0.6"/><circle cx="565.82" cy="300.6" r="2.0" fill="none" stroke="#2a2a2a" stroke-width="0.7"/><line x1="563.22" y1="297.40000000000003" x2="568.42" y2="297.40000000000003" stroke="#2a2a2a" stroke-width="0.6"/></g><line x1="501.2" y1="274.8" x2="562.4" y2="274.8" stroke="#1e1e1e" stroke-width="1.1" /><line x1="501.2" y1="296.2" x2="562.4" y2="296.2" stroke="#1e1e1e" stroke-width="1.1" /><line x1="472" y1="285.6" x2="617" y2="285.6" stroke="#333" stroke-width="0.6" stroke-dasharray="9,2,2,2"/><line x1="478.3" y1="175.3" x2="478.3" y2="242.5" stroke="#2a2a2a" stroke-width="0.7" /><line x1="579.5" y1="175.3" x2="579.5" y2="247" stroke="#2a2a2a" stroke-width="0.7" /><line x1="478.3" y1="180.4" x2="579.5" y2="180.4" stroke="#2a2a2a" stroke-width="0.7" /><polygon points="478.30,180.40 496.80,177.40 496.80,183.40" fill="#1e1e1e"/><polygon points="579.50,180.40 561.00,177.40 561.00,183.40" fill="#1e1e1e"/><text x="524.3" y="175.7" font-size="19.5" text-anchor="start" font-weight="normal" fill="#1e1e1e" stroke="#1e1e1e" stroke-width="0.7" textLength="8.0" lengthAdjust="spacingAndGlyphs"  >L</text><text x="537.0" y="175.7" font-size="13.5" text-anchor="start" font-weight="normal" fill="#1e1e1e" stroke="#1e1e1e" stroke-width="0.7" textLength="26.9" lengthAdjust="spacingAndGlyphs"  >±0,02</text><line x1="545.6" y1="206.7" x2="545.6" y2="243" stroke="#2a2a2a" stroke-width="0.7" /><line x1="478.3" y1="212.4" x2="545.6" y2="212.4" stroke="#2a2a2a" stroke-width="0.7" /><polygon points="478.30,212.40 496.80,209.40 496.80,215.40" fill="#1e1e1e"/><polygon points="545.60,212.40 527.10,209.40 527.10,215.40" fill="#1e1e1e"/><text x="493.4" y="207.5" font-size="19.5" text-anchor="start" font-weight="normal" fill="#1e1e1e" stroke="#1e1e1e" stroke-width="0.7" textLength="36.6" lengthAdjust="spacingAndGlyphs"  >0.6xL</text><line x1="412.2" y1="243.4" x2="475" y2="243.4" stroke="#2a2a2a" stroke-width="0.7" /><line x1="412.2" y1="327.5" x2="475" y2="327.5" stroke="#2a2a2a" stroke-width="0.7" /><line x1="417.5" y1="243.4" x2="417.5" y2="327.5" stroke="#2a2a2a" stroke-width="0.7" /><polygon points="417.50,243.40 414.50,261.90 420.50,261.90" fill="#1e1e1e"/><polygon points="417.50,327.50 414.50,309.00 420.50,309.00" fill="#1e1e1e"/><text x="411.8" y="307.2" font-size="19.5" text-anchor="start" font-weight="normal" fill="#1e1e1e" stroke="#1e1e1e" stroke-width="0.7" textLength="46.1" lengthAdjust="spacingAndGlyphs" transform="rotate(-90 411.8 307.2)" >ØD m6</text><line x1="442.8" y1="264.2" x2="475" y2="264.2" stroke="#2a2a2a" stroke-width="0.7" /><line x1="442.8" y1="306.6" x2="475" y2="306.6" stroke="#2a2a2a" stroke-width="0.7" /><line x1="448.2" y1="227.7" x2="448.2" y2="343.2" stroke="#2a2a2a" stroke-width="0.7" /><polygon points="448.20,264.20 445.20,245.70 451.20,245.70" fill="#1e1e1e"/><polygon points="448.20,306.60 445.20,325.10 451.20,325.10" fill="#1e1e1e"/><text x="442.9" y="296.9" font-size="19.5" text-anchor="start" font-weight="normal" fill="#1e1e1e" stroke="#1e1e1e" stroke-width="0.7" textLength="25.1" lengthAdjust="spacingAndGlyphs" transform="rotate(-90 442.9 296.9)" >Ød1</text><line x1="581.9" y1="274.7" x2="615.7" y2="274.7" stroke="#8a8a8a" stroke-width="0.8" /><line x1="581.9" y1="296.0" x2="615.7" y2="296.0" stroke="#8a8a8a" stroke-width="0.8" /><line x1="609.8" y1="237.3" x2="609.8" y2="333" stroke="#2a2a2a" stroke-width="0.7" /><polygon points="609.80,274.70 606.80,256.20 612.80,256.20" fill="#1e1e1e"/><polygon points="609.80,296.00 606.80,314.50 612.80,314.50" fill="#1e1e1e"/><text x="605.3" y="294.5" font-size="19.5" text-anchor="start" font-weight="normal" fill="#1e1e1e" stroke="#1e1e1e" stroke-width="0.7" textLength="18.5" lengthAdjust="spacingAndGlyphs" transform="rotate(-90 605.3 294.5)" >M1</text><line x1="580" y1="247.2" x2="646.3" y2="247.2" stroke="#2a2a2a" stroke-width="0.7" /><line x1="580" y1="323.1" x2="646.3" y2="323.1" stroke="#2a2a2a" stroke-width="0.7" /><line x1="640.7" y1="247.2" x2="640.7" y2="323.1" stroke="#2a2a2a" stroke-width="0.7" /><polygon points="640.70,247.20 637.70,265.70 643.70,265.70" fill="#1e1e1e"/><polygon points="640.70,323.10 637.70,304.60 643.70,304.60" fill="#1e1e1e"/><text x="635.2" y="306.0" font-size="19.5" text-anchor="start" font-weight="normal" fill="#1e1e1e" stroke="#1e1e1e" stroke-width="0.7" textLength="43.0" lengthAdjust="spacingAndGlyphs" transform="rotate(-90 635.2 306.0)" >ØD h7</text><line x1="475.4" y1="306.8" x2="475.4" y2="364.5" stroke="#2a2a2a" stroke-width="0.7" /><line x1="479.0" y1="306.8" x2="479.0" y2="364.5" stroke="#2a2a2a" stroke-width="0.7" /><line x1="438" y1="358.5" x2="517" y2="358.5" stroke="#2a2a2a" stroke-width="0.7" /><polygon points="475.40,358.50 456.90,355.50 456.90,361.50" fill="#1e1e1e"/><polygon points="479.00,358.50 497.50,355.50 497.50,361.50" fill="#1e1e1e"/><text x="512.0" y="351.7" font-size="17.5" text-anchor="start" font-weight="normal" fill="#1e1e1e" stroke="#1e1e1e" stroke-width="0.7" textLength="9.8" lengthAdjust="spacingAndGlyphs"  >S</text><path d="M449.7,385.8 L440.4,376.2 L440.4,362.5 L476.5,293" fill="none" stroke="#f26a4b" stroke-width="1"/><polygon points="480,286.2 474.3,292.2 477.6,295.6" fill="#f26a4b"/><circle cx="455.9" cy="391.0" r="6.4" fill="none" stroke="#f26a4b" stroke-width="0.9"/><line x1="445" y1="391.0" x2="467" y2="391.0" stroke="#f26a4b" stroke-width="0.8" /><line x1="455.9" y1="382.4" x2="455.9" y2="401.6" stroke="#f26a4b" stroke-width="0.8" /><polygon points="665,284.2 700.5,284.2 700.5,278.6 714.2,286.5 700.5,294.4 700.5,288.8 665,288.8" fill="#fff" stroke="#1e1e1e" stroke-width="0.9"/><rect x="821.6" y="186.2" width="139.1" height="202.7" fill="#d3e9f6"/><defs><clipPath id="cr"><path d="M821.6,186.2 L960.7,186.2 L960.7,388.9 L821.6,388.9 Z M821.6,243.5 L920.3,243.5 L920.3,327.3 L821.6,327.3 Z" clip-rule="evenodd"/></clipPath></defs><g clip-path="url(#cr)"><line x1="596.00" y1="388.9" x2="798.70" y2="186.2" stroke="#333" stroke-width="0.6"/><line x1="615.70" y1="388.9" x2="818.40" y2="186.2" stroke="#333" stroke-width="0.6"/><line x1="635.40" y1="388.9" x2="838.10" y2="186.2" stroke="#333" stroke-width="0.6"/><line x1="655.10" y1="388.9" x2="857.80" y2="186.2" stroke="#333" stroke-width="0.6"/><line x1="674.80" y1="388.9" x2="877.50" y2="186.2" stroke="#333" stroke-width="0.6"/><line x1="694.50" y1="388.9" x2="897.20" y2="186.2" stroke="#333" stroke-width="0.6"/><line x1="714.20" y1="388.9" x2="916.90" y2="186.2" stroke="#333" stroke-width="0.6"/><line x1="733.90" y1="388.9" x2="936.60" y2="186.2" stroke="#333" stroke-width="0.6"/><line x1="753.60" y1="388.9" x2="956.30" y2="186.2" stroke="#333" stroke-width="0.6"/><line x1="773.30" y1="388.9" x2="976.00" y2="186.2" stroke="#333" stroke-width="0.6"/><line x1="793.00" y1="388.9" x2="995.70" y2="186.2" stroke="#333" stroke-width="0.6"/><line x1="812.70" y1="388.9" x2="1015.40" y2="186.2" stroke="#333" stroke-width="0.6"/><line x1="832.40" y1="388.9" x2="1035.10" y2="186.2" stroke="#333" stroke-width="0.6"/><line x1="852.10" y1="388.9" x2="1054.80" y2="186.2" stroke="#333" stroke-width="0.6"/><line x1="871.80" y1="388.9" x2="1074.50" y2="186.2" stroke="#333" stroke-width="0.6"/><line x1="891.50" y1="388.9" x2="1094.20" y2="186.2" stroke="#333" stroke-width="0.6"/><line x1="911.20" y1="388.9" x2="1113.90" y2="186.2" stroke="#333" stroke-width="0.6"/><line x1="930.90" y1="388.9" x2="1133.60" y2="186.2" stroke="#333" stroke-width="0.6"/><line x1="950.60" y1="388.9" x2="1153.30" y2="186.2" stroke="#333" stroke-width="0.6"/><line x1="970.30" y1="388.9" x2="1173.00" y2="186.2" stroke="#333" stroke-width="0.6"/></g><path d="M821.6,388.9 L821.6,186.2" stroke="#1e1e1e" stroke-width="1"/><path d="M821.6,243.5 L920.3,243.5 L920.3,327.3 L821.6,327.3" fill="none" stroke="#1e1e1e" stroke-width="1.2"/><line x1="821.6" y1="186.2" x2="960.7" y2="186.2" stroke="#333" stroke-width="0.7" stroke-dasharray="14,2.5,2,2.5"/><line x1="960.7" y1="186.2" x2="960.7" y2="388.9" stroke="#333" stroke-width="0.7" stroke-dasharray="14,2.5,2,2.5"/><line x1="821.6" y1="388.9" x2="960.7" y2="388.9" stroke="#333" stroke-width="0.7" stroke-dasharray="14,2.5,2,2.5"/><line x1="801.5" y1="284.8" x2="978.8" y2="284.8" stroke="#333" stroke-width="0.6" stroke-dasharray="14,2.5,2,2.5"/><line x1="784.8" y1="243.5" x2="820" y2="243.5" stroke="#2a2a2a" stroke-width="0.7" /><line x1="784.8" y1="327.3" x2="820" y2="327.3" stroke="#2a2a2a" stroke-width="0.7" /><line x1="789.7" y1="243.5" x2="789.7" y2="327.3" stroke="#2a2a2a" stroke-width="0.7" /><polygon points="789.70,243.50 786.70,262.00 792.70,262.00" fill="#1e1e1e"/><polygon points="789.70,327.30 786.70,308.80 792.70,308.80" fill="#1e1e1e"/><text x="784.3" y="307.0" font-size="19.5" text-anchor="start" font-weight="normal" fill="#1e1e1e" stroke="#1e1e1e" stroke-width="0.7" textLength="44.0" lengthAdjust="spacingAndGlyphs" transform="rotate(-90 784.3 307.0)" >ØD H7</text><line x1="821.6" y1="391.3" x2="821.6" y2="419.8" stroke="#2a2a2a" stroke-width="0.7" /><line x1="919.9" y1="327.3" x2="919.9" y2="419.8" stroke="#2a2a2a" stroke-width="0.7" /><line x1="821.6" y1="414.3" x2="919.9" y2="414.3" stroke="#2a2a2a" stroke-width="0.7" /><polygon points="821.60,414.30 840.10,411.30 840.10,417.30" fill="#1e1e1e"/><polygon points="919.90,414.30 901.40,411.30 901.40,417.30" fill="#1e1e1e"/><text x="866.5" y="409.0" font-size="19.5" text-anchor="start" font-weight="normal" fill="#1e1e1e" stroke="#1e1e1e" stroke-width="0.7" textLength="8.0" lengthAdjust="spacingAndGlyphs"  >L</text></svg>
</body></html>
